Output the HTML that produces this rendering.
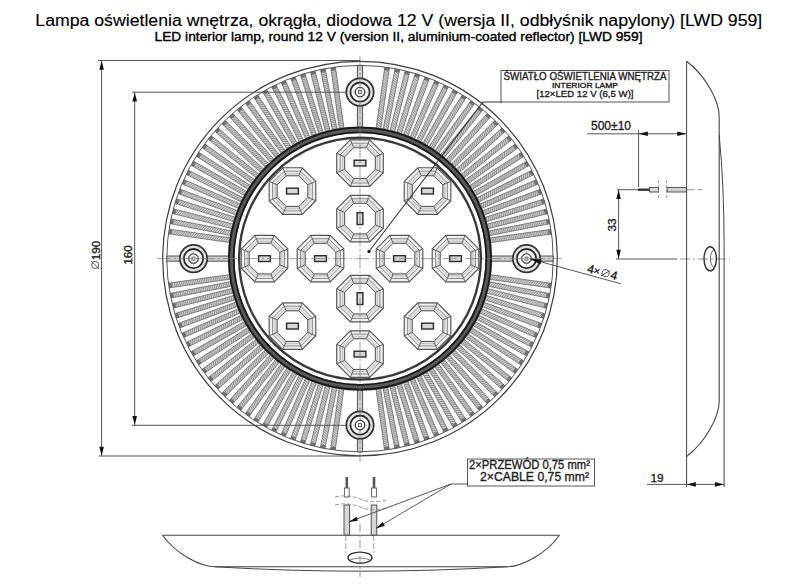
<!DOCTYPE html>
<html><head><meta charset="utf-8"><style>
html,body{margin:0;padding:0;background:#fff;}
svg{display:block;}
text{font-family:"Liberation Sans",sans-serif;}
.lb{stroke:#222;stroke-width:0.35px;}
</style></head><body>
<svg width="800" height="585" viewBox="0 0 800 585">
<defs>
<pattern id="hatch" patternUnits="userSpaceOnUse" width="3" height="3" patternTransform="rotate(35)">
<rect width="3" height="3" fill="#cecece"/><rect width="1.1" height="3" fill="#8a8a8a"/>
</pattern>
</defs>
<rect width="800" height="585" fill="#fff"/>
<text x="398.8" y="25.8" font-size="17.3" text-anchor="middle" fill="#000" stroke="#000" stroke-width="0.15" textLength="727" lengthAdjust="spacingAndGlyphs">Lampa oświetlenia wnętrza, okrągła, diodowa 12 V (wersja II, odbłyśnik napylony) [LWD 959]</text>
<text x="398.5" y="40.6" font-size="13.2" text-anchor="middle" fill="#000" stroke="#000" stroke-width="0.4" textLength="488" lengthAdjust="spacingAndGlyphs">LED interior lamp, round 12 V (version II, aluminium-coated reflector) [LWD 959]</text>
<g id="ribs">
<path d="M489.54,274.59 L551.02,283.31 L550.36,287.96 L488.88,279.25Z M488.49,281.53 L549.42,293.54 L548.51,298.15 L487.58,286.14Z M487.07,288.4 L547.27,303.67 L546.11,308.22 L485.92,292.96Z M485.29,295.19 L544.58,313.66 L543.18,318.15 L483.89,299.67Z M483.14,301.86 L541.35,323.5 L539.71,327.91 L481.5,306.27Z M480.64,308.42 L537.6,333.15 L535.73,337.46 L478.77,312.73Z M477.79,314.83 L533.34,342.59 L531.24,346.79 L475.69,319.03Z M474.6,321.08 L528.58,351.78 L526.25,355.86 L472.27,325.16Z M471.07,327.14 L523.33,360.7 L520.79,364.66 L468.53,331.1Z M467.23,333.01 L517.6,369.33 L514.86,373.14 L464.48,336.82Z M463.08,338.67 L511.43,377.64 L508.48,381.3 L460.13,342.33Z M458.63,344.09 L504.81,385.6 L501.67,389.1 L455.49,347.58Z M453.89,349.26 L497.78,393.2 L494.45,396.52 L450.57,352.59Z M448.88,354.18 L490.35,400.41 L486.85,403.55 L445.39,357.32Z M443.62,358.82 L482.54,407.21 L478.88,410.15 L439.96,361.76Z M438.12,363.16 L474.38,413.58 L470.56,416.32 L434.3,365.91Z M432.38,367.21 L465.89,419.5 L461.93,422.03 L428.43,369.75Z M426.44,370.94 L457.09,424.95 L453,427.27 L422.36,373.26Z M420.31,374.35 L448.01,429.93 L443.8,432.03 L416.11,376.45Z M414.01,377.42 L438.68,434.41 L434.36,436.28 L409.69,379.29Z M407.54,380.15 L429.12,438.39 L424.71,440.02 L403.14,381.79Z M400.94,382.53 L419.36,441.84 L414.87,443.23 L396.45,383.93Z M394.22,384.55 L409.43,444.76 L404.87,445.92 L389.67,385.7Z M387.41,386.21 L399.35,447.15 L394.74,448.06 L382.8,387.12Z M380.51,387.5 L389.17,448.99 L384.51,449.65 L375.86,388.15Z M344.01,388.14 L335.29,449.62 L330.64,448.96 L339.35,387.48Z M337.07,387.09 L325.06,448.02 L320.45,447.11 L332.46,386.18Z M330.2,385.67 L314.93,445.87 L310.38,444.71 L325.64,384.52Z M323.41,383.89 L304.94,443.18 L300.45,441.78 L318.93,382.49Z M316.74,381.74 L295.1,439.95 L290.69,438.31 L312.33,380.1Z M310.18,379.24 L285.45,436.2 L281.14,434.33 L305.87,377.37Z M303.77,376.39 L276.01,431.94 L271.81,429.84 L299.57,374.29Z M297.52,373.2 L266.82,427.18 L262.74,424.85 L293.44,370.87Z M291.46,369.67 L257.9,421.93 L253.94,419.39 L287.5,367.13Z M285.59,365.83 L249.27,416.2 L245.46,413.46 L281.78,363.08Z M279.93,361.68 L240.96,410.03 L237.3,407.08 L276.27,358.73Z M274.51,357.23 L233,403.41 L229.5,400.27 L271.02,354.09Z M269.34,352.49 L225.4,396.38 L222.08,393.05 L266.01,349.17Z M264.42,347.48 L218.19,388.95 L215.05,385.45 L261.28,343.99Z M259.78,342.22 L211.39,381.14 L208.45,377.48 L256.84,338.56Z M255.44,336.72 L205.02,372.98 L202.28,369.16 L252.69,332.9Z M251.39,330.98 L199.1,364.49 L196.57,360.53 L248.85,327.03Z M247.66,325.04 L193.65,355.69 L191.33,351.6 L245.34,320.96Z M244.25,318.91 L188.67,346.61 L186.57,342.4 L242.15,314.71Z M241.18,312.61 L184.19,337.28 L182.32,332.96 L239.31,308.29Z M238.45,306.14 L180.21,327.72 L178.58,323.31 L236.81,301.74Z M236.07,299.54 L176.76,317.96 L175.37,313.47 L234.67,295.05Z M234.05,292.82 L173.84,308.03 L172.68,303.47 L232.9,288.27Z M232.39,286.01 L171.45,297.95 L170.54,293.34 L231.48,281.4Z M231.1,279.11 L169.61,287.77 L168.95,283.11 L230.45,274.46Z M230.46,242.61 L168.98,233.89 L169.64,229.24 L231.12,237.95Z M231.51,235.67 L170.58,223.66 L171.49,219.05 L232.42,231.06Z M232.93,228.8 L172.73,213.53 L173.89,208.98 L234.08,224.24Z M234.71,222.01 L175.42,203.54 L176.82,199.05 L236.11,217.53Z M236.86,215.34 L178.65,193.7 L180.29,189.29 L238.5,210.93Z M239.36,208.78 L182.4,184.05 L184.27,179.74 L241.23,204.47Z M242.21,202.37 L186.66,174.61 L188.76,170.41 L244.31,198.17Z M245.4,196.12 L191.42,165.42 L193.75,161.34 L247.73,192.04Z M248.93,190.06 L196.67,156.5 L199.21,152.54 L251.47,186.1Z M252.77,184.19 L202.4,147.87 L205.14,144.06 L255.52,180.38Z M256.92,178.53 L208.57,139.56 L211.52,135.9 L259.87,174.87Z M261.37,173.11 L215.19,131.6 L218.33,128.1 L264.51,169.62Z M266.11,167.94 L222.22,124 L225.55,120.68 L269.43,164.61Z M271.12,163.02 L229.65,116.79 L233.15,113.65 L274.61,159.88Z M276.38,158.38 L237.46,109.99 L241.12,107.05 L280.04,155.44Z M281.88,154.04 L245.62,103.62 L249.44,100.88 L285.7,151.29Z M287.62,149.99 L254.11,97.7 L258.07,95.17 L291.57,147.45Z M293.56,146.26 L262.91,92.25 L267,89.93 L297.64,143.94Z M299.69,142.85 L271.99,87.27 L276.2,85.17 L303.89,140.75Z M305.99,139.78 L281.32,82.79 L285.64,80.92 L310.31,137.91Z M312.46,137.05 L290.88,78.81 L295.29,77.18 L316.86,135.41Z M319.06,134.67 L300.64,75.36 L305.13,73.97 L323.55,133.27Z M325.78,132.65 L310.57,72.44 L315.13,71.28 L330.33,131.5Z M332.59,130.99 L320.65,70.05 L325.26,69.14 L337.2,130.08Z M339.49,129.7 L330.83,68.21 L335.49,67.55 L344.14,129.05Z M375.99,129.06 L384.71,67.58 L389.36,68.24 L380.65,129.72Z M382.93,130.11 L394.94,69.18 L399.55,70.09 L387.54,131.02Z M389.8,131.53 L405.07,71.33 L409.62,72.49 L394.36,132.68Z M396.59,133.31 L415.06,74.02 L419.55,75.42 L401.07,134.71Z M403.26,135.46 L424.9,77.25 L429.31,78.89 L407.67,137.1Z M409.82,137.96 L434.55,81 L438.86,82.87 L414.13,139.83Z M416.23,140.81 L443.99,85.26 L448.19,87.36 L420.43,142.91Z M422.48,144 L453.18,90.02 L457.26,92.35 L426.56,146.33Z M428.54,147.53 L462.1,95.27 L466.06,97.81 L432.5,150.07Z M434.41,151.37 L470.73,101 L474.54,103.74 L438.22,154.12Z M440.07,155.52 L479.04,107.17 L482.7,110.12 L443.73,158.47Z M445.49,159.97 L487,113.79 L490.5,116.93 L448.98,163.11Z M450.66,164.71 L494.6,120.82 L497.92,124.15 L453.99,168.03Z M455.58,169.72 L501.81,128.25 L504.95,131.75 L458.72,173.21Z M460.22,174.98 L508.61,136.06 L511.55,139.72 L463.16,178.64Z M464.56,180.48 L514.98,144.22 L517.72,148.04 L467.31,184.3Z M468.61,186.22 L520.9,152.71 L523.43,156.67 L471.15,190.17Z M472.34,192.16 L526.35,161.51 L528.67,165.6 L474.66,196.24Z M475.75,198.29 L531.33,170.59 L533.43,174.8 L477.85,202.49Z M478.82,204.59 L535.81,179.92 L537.68,184.24 L480.69,208.91Z M481.55,211.06 L539.79,189.48 L541.42,193.89 L483.19,215.46Z M483.93,217.66 L543.24,199.24 L544.63,203.73 L485.33,222.15Z M485.95,224.38 L546.16,209.17 L547.32,213.73 L487.1,228.93Z M487.61,231.19 L548.55,219.25 L549.46,223.86 L488.52,235.8Z M488.9,238.09 L550.39,229.43 L551.05,234.09 L489.55,242.74Z" fill="#d0d0d0" stroke="none"/>
<path d="M486.9,279.0L490.1,274.7M489.2,279.3L492.4,275.0M491.5,279.6L494.7,275.3M493.7,279.9L497.0,275.6M496.0,280.3L499.2,276.0M498.3,280.6L501.5,276.3M500.6,280.9L503.8,276.6M502.8,281.2L506.1,276.9M505.1,281.5L508.3,277.3M507.4,281.9L510.6,277.6M509.7,282.2L512.9,277.9M511.9,282.5L515.2,278.2M514.2,282.8L517.5,278.6M516.5,283.2L519.7,278.9M518.8,283.5L522.0,279.2M521.1,283.8L524.3,279.5M523.3,284.1L526.6,279.8M525.6,284.5L528.8,280.2M527.9,284.8L531.1,280.5M530.2,285.1L533.4,280.8M532.4,285.4L535.7,281.1M534.7,285.7L538.0,281.5M537.0,286.1L540.2,281.8M539.3,286.4L542.5,282.1M541.6,286.7L544.8,282.4M543.8,287.0L547.1,282.7M546.1,287.4L549.3,283.1M485.6,285.8L489.1,281.6M487.9,286.2L491.3,282.1M490.1,286.6L493.6,282.5M492.4,287.1L495.8,283.0M494.6,287.5L498.1,283.4M496.9,288.0L500.4,283.9M499.2,288.4L502.6,284.3M501.4,288.9L504.9,284.8M503.7,289.3L507.1,285.2M505.9,289.8L509.4,285.6M508.2,290.2L511.6,286.1M510.4,290.6L513.9,286.5M512.7,291.1L516.2,287.0M515.0,291.5L518.4,287.4M517.2,292.0L520.7,287.9M519.5,292.4L522.9,288.3M521.7,292.9L525.2,288.8M524.0,293.3L527.4,289.2M526.2,293.8L529.7,289.7M528.5,294.2L532.0,290.1M530.8,294.7L534.2,290.5M533.0,295.1L536.5,291.0M535.3,295.5L538.7,291.4M537.5,296.0L541.0,291.9M539.8,296.4L543.2,292.3M542.0,296.9L545.5,292.8M544.3,297.3L547.8,293.2M484.0,292.5L487.7,288.5M486.2,293.0L489.9,289.1M488.4,293.6L492.1,289.7M490.7,294.2L494.3,290.2M492.9,294.7L496.6,290.8M495.1,295.3L498.8,291.4M497.4,295.9L501.0,291.9M499.6,296.4L503.3,292.5M501.8,297.0L505.5,293.1M504.0,297.6L507.7,293.6M506.3,298.1L509.9,294.2M508.5,298.7L512.2,294.8M510.7,299.2L514.4,295.3M513.0,299.8L516.6,295.9M515.2,300.4L518.9,296.5M517.4,300.9L521.1,297.0M519.7,301.5L523.3,297.6M521.9,302.1L525.6,298.2M524.1,302.6L527.8,298.7M526.3,303.2L530.0,299.3M528.6,303.8L532.2,299.9M530.8,304.3L534.5,300.4M533.0,304.9L536.7,301.0M535.3,305.5L538.9,301.6M537.5,306.0L541.2,302.1M539.7,306.6L543.4,302.7M541.9,307.2L545.6,303.2M482.0,299.1L485.9,295.4M484.2,299.8L488.1,296.0M486.4,300.4L490.3,296.7M488.6,301.1L492.4,297.4M490.8,301.8L494.6,298.1M493.0,302.5L496.8,298.8M495.2,303.2L499.0,299.5M497.4,303.9L501.2,300.2M499.5,304.6L503.4,300.8M501.7,305.2L505.6,301.5M503.9,305.9L507.8,302.2M506.1,306.6L510.0,302.9M508.3,307.3L512.2,303.6M510.5,308.0L514.4,304.3M512.7,308.7L516.6,304.9M514.9,309.3L518.8,305.6M517.1,310.0L521.0,306.3M519.3,310.7L523.2,307.0M521.5,311.4L525.4,307.7M523.7,312.1L527.6,308.4M525.9,312.8L529.8,309.1M528.1,313.4L532.0,309.7M530.3,314.1L534.2,310.4M532.5,314.8L536.4,311.1M534.7,315.5L538.6,311.8M536.9,316.2L540.8,312.5M539.1,316.9L543.0,313.2M479.6,305.6L483.7,302.1M481.8,306.4L485.9,302.9M483.9,307.2L488.0,303.7M486.1,308.0L490.2,304.5M488.3,308.8L492.3,305.3M490.4,309.6L494.5,306.1M492.6,310.4L496.6,306.9M494.7,311.2L498.8,307.7M496.9,312.0L501.0,308.5M499.0,312.8L503.1,309.3M501.2,313.6L505.3,310.1M503.3,314.4L507.4,310.9M505.5,315.2L509.6,311.7M507.7,316.0L511.7,312.5M509.8,316.8L513.9,313.3M512.0,317.6L516.0,314.1M514.1,318.4L518.2,314.9M516.3,319.2L520.4,315.7M518.4,320.0L522.5,316.5M520.6,320.8L524.7,317.3M522.7,321.6L526.8,318.1M524.9,322.4L529.0,318.9M527.1,323.2L531.1,319.7M529.2,324.0L533.3,320.5M531.4,324.8L535.4,321.3M533.5,325.6L537.6,322.1M535.7,326.4L539.8,322.9M476.9,311.9L481.2,308.7M479.0,312.8L483.3,309.6M481.2,313.8L485.4,310.5M483.3,314.7L487.5,311.4M485.4,315.6L489.6,312.3M487.5,316.5L491.7,313.2M489.6,317.4L493.8,314.2M491.7,318.3L496.0,315.1M493.8,319.3L498.1,316.0M495.9,320.2L500.2,316.9M498.0,321.1L502.3,317.8M500.1,322.0L504.4,318.7M502.2,322.9L506.5,319.6M504.4,323.8L508.6,320.6M506.5,324.8L510.7,321.5M508.6,325.7L512.8,322.4M510.7,326.6L514.9,323.3M512.8,327.5L517.1,324.2M514.9,328.4L519.2,325.1M517.0,329.3L521.3,326.1M519.1,330.3L523.4,327.0M521.2,331.2L525.5,327.9M523.3,332.1L527.6,328.8M525.5,333.0L529.7,329.7M527.6,333.9L531.8,330.6M529.7,334.8L533.9,331.6M531.8,335.7L536.0,332.5M473.9,318.1L478.3,315.1M476.0,319.2L480.4,316.1M478.0,320.2L482.4,317.2M480.1,321.2L484.5,318.2M482.1,322.3L486.6,319.2M484.2,323.3L488.6,320.2M486.2,324.3L490.7,321.3M488.3,325.3L492.7,322.3M490.4,326.4L494.8,323.3M492.4,327.4L496.8,324.3M494.5,328.4L498.9,325.4M496.5,329.4L501.0,326.4M498.6,330.5L503.0,327.4M500.6,331.5L505.1,328.5M502.7,332.5L507.1,329.5M504.8,333.6L509.2,330.5M506.8,334.6L511.2,331.5M508.9,335.6L513.3,332.6M510.9,336.6L515.4,333.6M513.0,337.7L517.4,334.6M515.0,338.7L519.5,335.7M517.1,339.7L521.5,336.7M519.2,340.8L523.6,337.7M521.2,341.8L525.6,338.7M523.3,342.8L527.7,339.8M525.3,343.8L529.8,340.8M527.4,344.9L531.8,341.8M470.5,324.2L475.1,321.4M472.5,325.3L477.1,322.5M474.5,326.4L479.1,323.6M476.5,327.6L481.1,324.8M478.5,328.7L483.1,325.9M480.5,329.9L485.1,327.1M482.5,331.0L487.1,328.2M484.5,332.1L489.1,329.3M486.5,333.3L491.1,330.5M488.5,334.4L493.1,331.6M490.5,335.5L495.1,332.7M492.5,336.7L497.1,333.9M494.5,337.8L499.1,335.0M496.5,339.0L501.1,336.2M498.5,340.1L503.1,337.3M500.5,341.2L505.1,338.4M502.5,342.4L507.1,339.6M504.5,343.5L509.1,340.7M506.5,344.6L511.1,341.8M508.5,345.8L513.1,343.0M510.5,346.9L515.1,344.1M512.5,348.1L517.1,345.3M514.5,349.2L519.1,346.4M516.5,350.3L521.1,347.5M518.5,351.5L523.1,348.7M520.5,352.6L525.1,349.8M522.5,353.7L527.1,350.9M466.9,330.0L471.6,327.5M468.8,331.3L473.5,328.7M470.7,332.5L475.5,330.0M472.7,333.7L477.4,331.2M474.6,335.0L479.3,332.4M476.5,336.2L481.3,333.7M478.5,337.5L483.2,334.9M480.4,338.7L485.1,336.2M482.3,340.0L487.1,337.4M484.3,341.2L489.0,338.7M486.2,342.4L490.9,339.9M488.1,343.7L492.9,341.1M490.1,344.9L494.8,342.4M492.0,346.2L496.7,343.6M493.9,347.4L498.7,344.9M495.9,348.7L500.6,346.1M497.8,349.9L502.5,347.4M499.8,351.1L504.5,348.6M501.7,352.4L506.4,349.8M503.6,353.6L508.3,351.1M505.6,354.9L510.3,352.3M507.5,356.1L512.2,353.6M509.4,357.4L514.2,354.8M511.4,358.6L516.1,356.1M513.3,359.8L518.0,357.3M515.2,361.1L520.0,358.5M517.2,362.3L521.9,359.8M462.9,335.7L467.7,333.4M464.7,337.0L469.6,334.7M466.6,338.3L471.4,336.1M468.5,339.7L473.3,337.4M470.3,341.0L475.2,338.7M472.2,342.4L477.0,340.1M474.1,343.7L478.9,341.4M475.9,345.1L480.8,342.8M477.8,346.4L482.6,344.1M479.7,347.8L484.5,345.5M481.5,349.1L486.4,346.8M483.4,350.5L488.2,348.2M485.2,351.8L490.1,349.5M487.1,353.1L492.0,350.8M489.0,354.5L493.8,352.2M490.8,355.8L495.7,353.5M492.7,357.2L497.6,354.9M494.6,358.5L499.4,356.2M496.4,359.9L501.3,357.6M498.3,361.2L503.2,358.9M500.2,362.6L505.0,360.3M502.0,363.9L506.9,361.6M503.9,365.2L508.8,363.0M505.8,366.6L510.6,364.3M507.6,367.9L512.5,365.6M509.5,369.3L514.4,367.0M511.4,370.6L516.2,368.3M458.6,341.1L463.5,339.0M460.4,342.5L465.3,340.5M462.2,344.0L467.1,341.9M463.9,345.4L468.9,343.4M465.7,346.8L470.7,344.8M467.5,348.3L472.5,346.3M469.3,349.7L474.3,347.7M471.1,351.2L476.1,349.1M472.9,352.6L477.9,350.6M474.7,354.1L479.7,352.0M476.5,355.5L481.5,353.5M478.3,356.9L483.2,354.9M480.1,358.4L485.0,356.4M481.9,359.8L486.8,357.8M483.6,361.3L488.6,359.3M485.4,362.7L490.4,360.7M487.2,364.2L492.2,362.1M489.0,365.6L494.0,363.6M490.8,367.1L495.8,365.0M492.6,368.5L497.6,366.5M494.4,369.9L499.4,367.9M496.2,371.4L501.2,369.4M498.0,372.8L502.9,370.8M499.8,374.3L504.7,372.2M501.5,375.7L506.5,373.7M503.3,377.2L508.3,375.1M505.1,378.6L510.1,376.6M454.0,346.2L459.1,344.5M455.7,347.8L460.8,346.0M457.4,349.3L462.5,347.6M459.1,350.9L464.2,349.1M460.8,352.4L465.9,350.6M462.6,353.9L467.6,352.2M464.3,355.5L469.3,353.7M466.0,357.0L471.0,355.3M467.7,358.5L472.8,356.8M469.4,360.1L474.5,358.3M471.1,361.6L476.2,359.9M472.8,363.2L477.9,361.4M474.5,364.7L479.6,362.9M476.2,366.2L481.3,364.5M477.9,367.8L483.0,366.0M479.7,369.3L484.7,367.6M481.4,370.8L486.4,369.1M483.1,372.4L488.2,370.6M484.8,373.9L489.9,372.2M486.5,375.5L491.6,373.7M488.2,377.0L493.3,375.2M489.9,378.5L495.0,376.8M491.6,380.1L496.7,378.3M493.3,381.6L498.4,379.9M495.1,383.1L500.1,381.4M496.8,384.7L501.8,382.9M498.5,386.2L503.5,384.5M449.2,351.2L454.3,349.7M450.8,352.8L455.9,351.3M452.4,354.4L457.6,352.9M454.0,356.1L459.2,354.6M455.7,357.7L460.8,356.2M457.3,359.3L462.4,357.8M458.9,360.9L464.1,359.5M460.5,362.6L465.7,361.1M462.2,364.2L467.3,362.7M463.8,365.8L468.9,364.3M465.4,367.4L470.6,366.0M467.0,369.1L472.2,367.6M468.7,370.7L473.8,369.2M470.3,372.3L475.4,370.8M471.9,374.0L477.1,372.5M473.5,375.6L478.7,374.1M475.2,377.2L480.3,375.7M476.8,378.8L481.9,377.4M478.4,380.5L483.6,379.0M480.0,382.1L485.2,380.6M481.7,383.7L486.8,382.2M483.3,385.3L488.5,383.9M484.9,387.0L490.1,385.5M486.5,388.6L491.7,387.1M488.2,390.2L493.3,388.7M489.8,391.9L495.0,390.4M491.4,393.5L496.6,392.0M444.1,355.8L449.3,354.6M445.6,357.5L450.8,356.3M447.1,359.3L452.4,358.0M448.7,361.0L453.9,359.8M450.2,362.7L455.4,361.5M451.7,364.4L457.0,363.2M453.3,366.1L458.5,364.9M454.8,367.8L460.0,366.6M456.3,369.5L461.6,368.3M457.9,371.2L463.1,370.0M459.4,372.9L464.6,371.7M460.9,374.7L466.2,373.5M462.5,376.4L467.7,375.2M464.0,378.1L469.2,376.9M465.6,379.8L470.8,378.6M467.1,381.5L472.3,380.3M468.6,383.2L473.9,382.0M470.2,384.9L475.4,383.7M471.7,386.6L476.9,385.4M473.2,388.4L478.5,387.2M474.8,390.1L480.0,388.9M476.3,391.8L481.5,390.6M477.8,393.5L483.1,392.3M479.4,395.2L484.6,394.0M480.9,396.9L486.1,395.7M482.4,398.6L487.7,397.4M484.0,400.3L489.2,399.1M438.7,360.2L444.0,359.3M440.1,362.0L445.4,361.1M441.6,363.8L446.9,362.9M443.0,365.6L448.3,364.7M444.5,367.4L449.8,366.5M445.9,369.2L451.2,368.2M447.4,371.0L452.6,370.0M448.8,372.7L454.1,371.8M450.2,374.5L455.5,373.6M451.7,376.3L457.0,375.4M453.1,378.1L458.4,377.2M454.6,379.9L459.9,379.0M456.0,381.7L461.3,380.8M457.4,383.5L462.7,382.6M458.9,385.3L464.2,384.4M460.3,387.1L465.6,386.2M461.8,388.9L467.1,388.0M463.2,390.7L468.5,389.8M464.7,392.5L469.9,391.5M466.1,394.3L471.4,393.3M467.5,396.0L472.8,395.1M469.0,397.8L474.3,396.9M470.4,399.6L475.7,398.7M471.9,401.4L477.2,400.5M473.3,403.2L478.6,402.3M474.7,405.0L480.0,404.1M476.2,406.8L481.5,405.9M433.1,364.3L438.5,363.7M434.5,366.2L439.8,365.5M435.8,368.0L441.2,367.4M437.2,369.9L442.5,369.3M438.5,371.8L443.8,371.1M439.8,373.6L445.2,373.0M441.2,375.5L446.5,374.9M442.5,377.4L447.9,376.7M443.9,379.2L449.2,378.6M445.2,381.1L450.6,380.5M446.6,383.0L451.9,382.3M447.9,384.8L453.2,384.2M449.2,386.7L454.6,386.1M450.6,388.6L455.9,387.9M451.9,390.4L457.3,389.8M453.3,392.3L458.6,391.7M454.6,394.2L460.0,393.5M456.0,396.0L461.3,395.4M457.3,397.9L462.6,397.3M458.7,399.8L464.0,399.1M460.0,401.6L465.3,401.0M461.3,403.5L466.7,402.9M462.7,405.4L468.0,404.7M464.0,407.2L469.4,406.6M465.4,409.1L470.7,408.5M466.7,411.0L472.0,410.3M468.1,412.8L473.4,412.2M427.3,368.1L432.7,367.7M428.6,370.0L433.9,369.7M429.8,371.9L435.2,371.6M431.1,373.9L436.4,373.5M432.3,375.8L437.7,375.5M433.6,377.7L438.9,377.4M434.8,379.7L440.2,379.3M436.0,381.6L441.4,381.3M437.3,383.6L442.6,383.2M438.5,385.5L443.9,385.1M439.8,387.4L445.1,387.1M441.0,389.4L446.4,389.0M442.2,391.3L447.6,391.0M443.5,393.2L448.8,392.9M444.7,395.2L450.1,394.8M446.0,397.1L451.3,396.8M447.2,399.0L452.6,398.7M448.4,401.0L453.8,400.6M449.7,402.9L455.0,402.6M450.9,404.9L456.3,404.5M452.2,406.8L457.5,406.4M453.4,408.7L458.8,408.4M454.6,410.7L460.0,410.3M455.9,412.6L461.2,412.3M457.1,414.5L462.5,414.2M458.4,416.5L463.7,416.1M459.6,418.4L465.0,418.1M421.4,371.5L426.7,371.5M422.5,373.5L427.9,373.5M423.6,375.5L429.0,375.5M424.8,377.5L430.1,377.5M425.9,379.5L431.3,379.5M427.0,381.5L432.4,381.5M428.2,383.5L433.6,383.5M429.3,385.5L434.7,385.5M430.4,387.5L435.8,387.5M431.6,389.5L437.0,389.5M432.7,391.5L438.1,391.5M433.9,393.5L439.2,393.5M435.0,395.5L440.4,395.5M436.1,397.5L441.5,397.5M437.3,399.5L442.6,399.5M438.4,401.5L443.8,401.5M439.5,403.5L444.9,403.5M440.7,405.5L446.0,405.5M441.8,407.5L447.2,407.5M442.9,409.5L448.3,409.5M444.1,411.5L449.4,411.5M445.2,413.5L450.6,413.5M446.3,415.5L451.7,415.5M447.5,417.5L452.8,417.5M448.6,419.5L454.0,419.5M449.7,421.5L455.1,421.5M450.9,423.5L456.3,423.5M415.2,374.7L420.6,374.9M416.2,376.7L421.6,376.9M417.3,378.8L422.6,379.0M418.3,380.8L423.7,381.1M419.3,382.9L424.7,383.1M420.3,384.9L425.7,385.2M421.4,387.0L426.7,387.2M422.4,389.1L427.8,389.3M423.4,391.1L428.8,391.4M424.4,393.2L429.8,393.4M425.5,395.2L430.8,395.5M426.5,397.3L431.9,397.5M427.5,399.4L432.9,399.6M428.5,401.4L433.9,401.6M429.6,403.5L434.9,403.7M430.6,405.5L436.0,405.8M431.6,407.6L437.0,407.8M432.7,409.7L438.0,409.9M433.7,411.7L439.0,411.9M434.7,413.8L440.1,414.0M435.7,415.8L441.1,416.1M436.8,417.9L442.1,418.1M437.8,419.9L443.1,420.2M438.8,422.0L444.2,422.2M439.8,424.1L445.2,424.3M440.9,426.1L446.2,426.4M441.9,428.2L447.3,428.4M408.9,377.5L414.2,378.0M409.8,379.6L415.2,380.1M410.7,381.7L416.1,382.2M411.6,383.8L417.0,384.3M412.6,385.9L417.9,386.4M413.5,388.0L418.8,388.5M414.4,390.1L419.7,390.6M415.3,392.2L420.6,392.7M416.2,394.3L421.6,394.9M417.1,396.5L422.5,397.0M418.0,398.6L423.4,399.1M418.9,400.7L424.3,401.2M419.9,402.8L425.2,403.3M420.8,404.9L426.1,405.4M421.7,407.0L427.0,407.5M422.6,409.1L428.0,409.6M423.5,411.2L428.9,411.7M424.4,413.3L429.8,413.9M425.3,415.4L430.7,416.0M426.3,417.6L431.6,418.1M427.2,419.7L432.5,420.2M428.1,421.8L433.4,422.3M429.0,423.9L434.3,424.4M429.9,426.0L435.3,426.5M430.8,428.1L436.2,428.6M431.7,430.2L437.1,430.7M432.7,432.3L438.0,432.9M402.4,379.9L407.8,380.7M403.2,382.1L408.6,382.9M404.0,384.2L409.3,385.0M404.8,386.4L410.1,387.2M405.6,388.5L410.9,389.3M406.4,390.7L411.7,391.5M407.2,392.9L412.5,393.7M408.0,395.0L413.3,395.8M408.8,397.2L414.1,398.0M409.6,399.3L414.9,400.1M410.4,401.5L415.7,402.3M411.2,403.6L416.5,404.4M412.0,405.8L417.3,406.6M412.8,407.9L418.1,408.8M413.6,410.1L418.9,410.9M414.4,412.3L419.7,413.1M415.2,414.4L420.5,415.2M416.0,416.6L421.3,417.4M416.8,418.7L422.1,419.5M417.6,420.9L422.9,421.7M418.4,423.0L423.7,423.9M419.2,425.2L424.5,426.0M420.0,427.4L425.3,428.2M420.8,429.5L426.1,430.3M421.6,431.7L426.9,432.5M422.4,433.8L427.7,434.6M423.2,436.0L428.5,436.8M395.9,382.0L401.1,383.1M396.5,384.2L401.8,385.3M397.2,386.4L402.5,387.5M397.9,388.6L403.2,389.7M398.6,390.8L403.8,391.9M399.3,393.0L404.5,394.1M400.0,395.2L405.2,396.3M400.6,397.4L405.9,398.5M401.3,399.6L406.6,400.7M402.0,401.8L407.3,402.9M402.7,404.0L407.9,405.1M403.4,406.2L408.6,407.3M404.0,408.4L409.3,409.5M404.7,410.6L410.0,411.7M405.4,412.8L410.7,413.9M406.1,415.0L411.4,416.1M406.8,417.2L412.0,418.3M407.5,419.4L412.7,420.4M408.1,421.6L413.4,422.6M408.8,423.8L414.1,424.8M409.5,425.9L414.8,427.0M410.2,428.1L415.4,429.2M410.9,430.3L416.1,431.4M411.5,432.5L416.8,433.6M412.2,434.7L417.5,435.8M412.9,436.9L418.2,438.0M413.6,439.1L418.9,440.2M389.2,383.8L394.4,385.1M389.7,386.0L394.9,387.4M390.3,388.2L395.5,389.6M390.9,390.5L396.1,391.8M391.4,392.7L396.6,394.1M392.0,394.9L397.2,396.3M392.6,397.1L397.7,398.5M393.1,399.4L398.3,400.7M393.7,401.6L398.9,403.0M394.2,403.8L399.4,405.2M394.8,406.1L400.0,407.4M395.4,408.3L400.6,409.7M395.9,410.5L401.1,411.9M396.5,412.8L401.7,414.1M397.1,415.0L402.3,416.4M397.6,417.2L402.8,418.6M398.2,419.4L403.4,420.8M398.7,421.7L403.9,423.0M399.3,423.9L404.5,425.3M399.9,426.1L405.1,427.5M400.4,428.4L405.6,429.7M401.0,430.6L406.2,432.0M401.6,432.8L406.8,434.2M402.1,435.1L407.3,436.4M402.7,437.3L407.9,438.7M403.3,439.5L408.4,440.9M403.8,441.7L409.0,443.1M382.4,385.2L387.5,386.8M382.9,387.4L388.0,389.1M383.3,389.7L388.4,391.3M383.7,391.9L388.9,393.6M384.2,394.2L389.3,395.8M384.6,396.4L389.7,398.1M385.1,398.7L390.2,400.3M385.5,401.0L390.6,402.6M386.0,403.2L391.1,404.9M386.4,405.5L391.5,407.1M386.8,407.7L391.9,409.4M387.3,410.0L392.4,411.6M387.7,412.2L392.8,413.9M388.2,414.5L393.3,416.1M388.6,416.8L393.7,418.4M389.0,419.0L394.2,420.7M389.5,421.3L394.6,422.9M389.9,423.5L395.0,425.2M390.4,425.8L395.5,427.4M390.8,428.0L395.9,429.7M391.3,430.3L396.4,431.9M391.7,432.6L396.8,434.2M392.1,434.8L397.3,436.5M392.6,437.1L397.7,438.7M393.0,439.3L398.1,441.0M393.5,441.6L398.6,443.2M393.9,443.8L399.0,445.5M375.6,386.2L380.6,388.1M375.9,388.5L380.9,390.4M376.2,390.7L381.2,392.6M376.5,393.0L381.6,394.9M376.9,395.3L381.9,397.2M377.2,397.6L382.2,399.5M377.5,399.8L382.5,401.8M377.8,402.1L382.8,404.0M378.1,404.4L383.2,406.3M378.5,406.7L383.5,408.6M378.8,408.9L383.8,410.9M379.1,411.2L384.1,413.1M379.4,413.5L384.4,415.4M379.7,415.8L384.8,417.7M380.1,418.1L385.1,420.0M380.4,420.3L385.4,422.3M380.7,422.6L385.7,424.5M381.0,424.9L386.0,426.8M381.3,427.2L386.4,429.1M381.7,429.4L386.7,431.4M382.0,431.7L387.0,433.6M382.3,434.0L387.3,435.9M382.6,436.3L387.6,438.2M383.0,438.6L388.0,440.5M383.3,440.8L388.3,442.8M383.6,443.1L388.6,445.0M383.9,445.4L388.9,447.3M339.6,385.5L343.9,388.7M339.3,387.8L343.6,391.0M339.0,390.1L343.3,393.3M338.7,392.3L343.0,395.6M338.3,394.6L342.6,397.8M338.0,396.9L342.3,400.1M337.7,399.2L342.0,402.4M337.4,401.4L341.7,404.7M337.1,403.7L341.3,406.9M336.7,406.0L341.0,409.2M336.4,408.3L340.7,411.5M336.1,410.5L340.4,413.8M335.8,412.8L340.0,416.1M335.4,415.1L339.7,418.3M335.1,417.4L339.4,420.6M334.8,419.7L339.1,422.9M334.5,421.9L338.8,425.2M334.1,424.2L338.4,427.4M333.8,426.5L338.1,429.7M333.5,428.8L337.8,432.0M333.2,431.0L337.5,434.3M332.9,433.3L337.1,436.6M332.5,435.6L336.8,438.8M332.2,437.9L336.5,441.1M331.9,440.2L336.2,443.4M331.6,442.4L335.9,445.7M331.2,444.7L335.5,447.9M332.8,384.2L337.0,387.7M332.4,386.5L336.5,389.9M332.0,388.7L336.1,392.2M331.5,391.0L335.6,394.4M331.1,393.2L335.2,396.7M330.6,395.5L334.7,399.0M330.2,397.8L334.3,401.2M329.7,400.0L333.8,403.5M329.3,402.3L333.4,405.7M328.8,404.5L333.0,408.0M328.4,406.8L332.5,410.2M328.0,409.0L332.1,412.5M327.5,411.3L331.6,414.8M327.1,413.6L331.2,417.0M326.6,415.8L330.7,419.3M326.2,418.1L330.3,421.5M325.7,420.3L329.8,423.8M325.3,422.6L329.4,426.0M324.8,424.8L328.9,428.3M324.4,427.1L328.5,430.6M323.9,429.4L328.1,432.8M323.5,431.6L327.6,435.1M323.1,433.9L327.2,437.3M322.6,436.1L326.7,439.6M322.2,438.4L326.3,441.8M321.7,440.6L325.8,444.1M321.3,442.9L325.4,446.4M326.1,382.6L330.1,386.3M325.6,384.8L329.5,388.5M325.0,387.0L328.9,390.7M324.4,389.3L328.4,392.9M323.9,391.5L327.8,395.2M323.3,393.7L327.2,397.4M322.7,396.0L326.7,399.6M322.2,398.2L326.1,401.9M321.6,400.4L325.5,404.1M321.0,402.6L325.0,406.3M320.5,404.9L324.4,408.5M319.9,407.1L323.8,410.8M319.4,409.3L323.3,413.0M318.8,411.6L322.7,415.2M318.2,413.8L322.1,417.5M317.7,416.0L321.6,419.7M317.1,418.3L321.0,421.9M316.5,420.5L320.4,424.2M316.0,422.7L319.9,426.4M315.4,424.9L319.3,428.6M314.8,427.2L318.7,430.8M314.3,429.4L318.2,433.1M313.7,431.6L317.6,435.3M313.1,433.9L317.0,437.5M312.6,436.1L316.5,439.8M312.0,438.3L315.9,442.0M311.4,440.5L315.4,444.2M319.5,380.6L323.2,384.5M318.8,382.8L322.6,386.7M318.2,385.0L321.9,388.9M317.5,387.2L321.2,391.0M316.8,389.4L320.5,393.2M316.1,391.6L319.8,395.4M315.4,393.8L319.1,397.6M314.7,396.0L318.4,399.8M314.0,398.1L317.8,402.0M313.4,400.3L317.1,404.2M312.7,402.5L316.4,406.4M312.0,404.7L315.7,408.6M311.3,406.9L315.0,410.8M310.6,409.1L314.3,413.0M309.9,411.3L313.7,415.2M309.3,413.5L313.0,417.4M308.6,415.7L312.3,419.6M307.9,417.9L311.6,421.8M307.2,420.1L310.9,424.0M306.5,422.3L310.2,426.2M305.8,424.5L309.5,428.4M305.2,426.7L308.9,430.6M304.5,428.9L308.2,432.8M303.8,431.1L307.5,435.0M303.1,433.3L306.8,437.2M302.4,435.5L306.1,439.4M301.7,437.7L305.4,441.6M313.0,378.2L316.5,382.3M312.2,380.4L315.7,384.5M311.4,382.5L314.9,386.6M310.6,384.7L314.1,388.8M309.8,386.9L313.3,390.9M309.0,389.0L312.5,393.1M308.2,391.2L311.7,395.2M307.4,393.3L310.9,397.4M306.6,395.5L310.1,399.6M305.8,397.6L309.3,401.7M305.0,399.8L308.5,403.9M304.2,401.9L307.7,406.0M303.4,404.1L306.9,408.2M302.6,406.3L306.1,410.3M301.8,408.4L305.3,412.5M301.0,410.6L304.5,414.6M300.2,412.7L303.7,416.8M299.4,414.9L302.9,419.0M298.6,417.0L302.1,421.1M297.8,419.2L301.3,423.3M297.0,421.3L300.5,425.4M296.2,423.5L299.7,427.6M295.4,425.7L298.9,429.7M294.6,427.8L298.1,431.9M293.8,430.0L297.3,434.0M293.0,432.1L296.5,436.2M292.2,434.3L295.7,438.4M306.7,375.5L309.9,379.8M305.8,377.6L309.0,381.9M304.8,379.8L308.1,384.0M303.9,381.9L307.2,386.1M303.0,384.0L306.3,388.2M302.1,386.1L305.4,390.3M301.2,388.2L304.4,392.4M300.3,390.3L303.5,394.6M299.3,392.4L302.6,396.7M298.4,394.5L301.7,398.8M297.5,396.6L300.8,400.9M296.6,398.7L299.9,403.0M295.7,400.8L299.0,405.1M294.8,403.0L298.0,407.2M293.8,405.1L297.1,409.3M292.9,407.2L296.2,411.4M292.0,409.3L295.3,413.5M291.1,411.4L294.4,415.7M290.2,413.5L293.5,417.8M289.3,415.6L292.5,419.9M288.3,417.7L291.6,422.0M287.4,419.8L290.7,424.1M286.5,421.9L289.8,426.2M285.6,424.1L288.9,428.3M284.7,426.2L288.0,430.4M283.8,428.3L287.0,432.5M282.9,430.4L286.1,434.6M300.5,372.5L303.5,376.9M299.4,374.6L302.5,379.0M298.4,376.6L301.4,381.0M297.4,378.7L300.4,383.1M296.3,380.7L299.4,385.2M295.3,382.8L298.4,387.2M294.3,384.8L297.3,389.3M293.3,386.9L296.3,391.3M292.2,389.0L295.3,393.4M291.2,391.0L294.3,395.4M290.2,393.1L293.2,397.5M289.2,395.1L292.2,399.6M288.1,397.2L291.2,401.6M287.1,399.2L290.1,403.7M286.1,401.3L289.1,405.7M285.0,403.4L288.1,407.8M284.0,405.4L287.1,409.8M283.0,407.5L286.0,411.9M282.0,409.5L285.0,414.0M280.9,411.6L284.0,416.0M279.9,413.6L282.9,418.1M278.9,415.7L281.9,420.1M277.8,417.8L280.9,422.2M276.8,419.8L279.9,424.2M275.8,421.9L278.8,426.3M274.8,423.9L277.8,428.4M273.7,426.0L276.8,430.4M294.4,369.1L297.2,373.7M293.3,371.1L296.1,375.7M292.2,373.1L295.0,377.7M291.0,375.1L293.8,379.7M289.9,377.1L292.7,381.7M288.7,379.1L291.5,383.7M287.6,381.1L290.4,385.7M286.5,383.1L289.3,387.7M285.3,385.1L288.1,389.7M284.2,387.1L287.0,391.7M283.1,389.1L285.9,393.7M281.9,391.1L284.7,395.7M280.8,393.1L283.6,397.7M279.6,395.1L282.4,399.7M278.5,397.1L281.3,401.7M277.4,399.1L280.2,403.7M276.2,401.1L279.0,405.7M275.1,403.1L277.9,407.7M274.0,405.1L276.8,409.7M272.8,407.1L275.6,411.7M271.7,409.1L274.5,413.7M270.5,411.1L273.3,415.7M269.4,413.1L272.2,417.7M268.3,415.1L271.1,419.7M267.1,417.1L269.9,421.7M266.0,419.1L268.8,423.7M264.9,421.1L267.7,425.7M288.6,365.5L291.1,370.2M287.3,367.4L289.9,372.1M286.1,369.3L288.6,374.1M284.9,371.3L287.4,376.0M283.6,373.2L286.2,377.9M282.4,375.1L284.9,379.9M281.1,377.1L283.7,381.8M279.9,379.0L282.4,383.7M278.6,380.9L281.2,385.7M277.4,382.9L279.9,387.6M276.2,384.8L278.7,389.5M274.9,386.7L277.5,391.5M273.7,388.7L276.2,393.4M272.4,390.6L275.0,395.3M271.2,392.5L273.7,397.3M269.9,394.5L272.5,399.2M268.7,396.4L271.2,401.1M267.5,398.4L270.0,403.1M266.2,400.3L268.8,405.0M265.0,402.2L267.5,406.9M263.7,404.2L266.3,408.9M262.5,406.1L265.0,410.8M261.2,408.0L263.8,412.8M260.0,410.0L262.5,414.7M258.8,411.9L261.3,416.6M257.5,413.8L260.1,418.6M256.3,415.8L258.8,420.5M282.9,361.5L285.2,366.3M281.6,363.3L283.9,368.2M280.3,365.2L282.5,370.0M278.9,367.1L281.2,371.9M277.6,368.9L279.9,373.8M276.2,370.8L278.5,375.6M274.9,372.7L277.2,377.5M273.5,374.5L275.8,379.4M272.2,376.4L274.5,381.2M270.8,378.3L273.1,383.1M269.5,380.1L271.8,385.0M268.1,382.0L270.4,386.8M266.8,383.8L269.1,388.7M265.5,385.7L267.8,390.6M264.1,387.6L266.4,392.4M262.8,389.4L265.1,394.3M261.4,391.3L263.7,396.2M260.1,393.2L262.4,398.0M258.7,395.0L261.0,399.9M257.4,396.9L259.7,401.8M256.0,398.8L258.3,403.6M254.7,400.6L257.0,405.5M253.4,402.5L255.6,407.4M252.0,404.4L254.3,409.2M250.7,406.2L253.0,411.1M249.3,408.1L251.6,413.0M248.0,410.0L250.3,414.8M277.5,357.2L279.6,362.1M276.1,359.0L278.1,363.9M274.6,360.8L276.7,365.7M273.2,362.5L275.2,367.5M271.8,364.3L273.8,369.3M270.3,366.1L272.3,371.1M268.9,367.9L270.9,372.9M267.4,369.7L269.5,374.7M266.0,371.5L268.0,376.5M264.5,373.3L266.6,378.3M263.1,375.1L265.1,380.1M261.7,376.9L263.7,381.8M260.2,378.7L262.2,383.6M258.8,380.5L260.8,385.4M257.3,382.2L259.3,387.2M255.9,384.0L257.9,389.0M254.4,385.8L256.5,390.8M253.0,387.6L255.0,392.6M251.5,389.4L253.6,394.4M250.1,391.2L252.1,396.2M248.7,393.0L250.7,398.0M247.2,394.8L249.2,399.8M245.8,396.6L247.8,401.5M244.3,398.4L246.4,403.3M242.9,400.1L244.9,405.1M241.4,401.9L243.5,406.9M240.0,403.7L242.0,408.7M272.4,352.6L274.1,357.7M270.8,354.3L272.6,359.4M269.3,356.0L271.0,361.1M267.7,357.7L269.5,362.8M266.2,359.4L268.0,364.5M264.7,361.2L266.4,366.2M263.1,362.9L264.9,367.9M261.6,364.6L263.3,369.6M260.1,366.3L261.8,371.4M258.5,368.0L260.3,373.1M257.0,369.7L258.7,374.8M255.4,371.4L257.2,376.5M253.9,373.1L255.7,378.2M252.4,374.8L254.1,379.9M250.8,376.5L252.6,381.6M249.3,378.3L251.0,383.3M247.8,380.0L249.5,385.0M246.2,381.7L248.0,386.8M244.7,383.4L246.4,388.5M243.1,385.1L244.9,390.2M241.6,386.8L243.4,391.9M240.1,388.5L241.8,393.6M238.5,390.2L240.3,395.3M237.0,391.9L238.7,397.0M235.5,393.7L237.2,398.7M233.9,395.4L235.7,400.4M232.4,397.1L234.1,402.1M267.4,347.8L268.9,352.9M265.8,349.4L267.3,354.5M264.2,351.0L265.7,356.2M262.5,352.6L264.0,357.8M260.9,354.3L262.4,359.4M259.3,355.9L260.8,361.0M257.7,357.5L259.1,362.7M256.0,359.1L257.5,364.3M254.4,360.8L255.9,365.9M252.8,362.4L254.3,367.5M251.2,364.0L252.6,369.2M249.5,365.6L251.0,370.8M247.9,367.3L249.4,372.4M246.3,368.9L247.8,374.0M244.6,370.5L246.1,375.7M243.0,372.1L244.5,377.3M241.4,373.8L242.9,378.9M239.8,375.4L241.2,380.5M238.1,377.0L239.6,382.2M236.5,378.6L238.0,383.8M234.9,380.3L236.4,385.4M233.3,381.9L234.7,387.1M231.6,383.5L233.1,388.7M230.0,385.1L231.5,390.3M228.4,386.8L229.9,391.9M226.7,388.4L228.2,393.6M225.1,390.0L226.6,395.2M262.8,342.7L264.0,347.9M261.1,344.2L262.3,349.4M259.3,345.7L260.6,351.0M257.6,347.3L258.8,352.5M255.9,348.8L257.1,354.0M254.2,350.3L255.4,355.6M252.5,351.9L253.7,357.1M250.8,353.4L252.0,358.6M249.1,354.9L250.3,360.2M247.4,356.5L248.6,361.7M245.7,358.0L246.9,363.2M243.9,359.5L245.1,364.8M242.2,361.1L243.4,366.3M240.5,362.6L241.7,367.8M238.8,364.2L240.0,369.4M237.1,365.7L238.3,370.9M235.4,367.2L236.6,372.5M233.7,368.8L234.9,374.0M232.0,370.3L233.2,375.5M230.2,371.8L231.4,377.1M228.5,373.4L229.7,378.6M226.8,374.9L228.0,380.1M225.1,376.4L226.3,381.7M223.4,378.0L224.6,383.2M221.7,379.5L222.9,384.7M220.0,381.0L221.2,386.3M218.3,382.6L219.5,387.8M258.4,337.3L259.3,342.6M256.6,338.7L257.5,344.0M254.8,340.2L255.7,345.5M253.0,341.6L253.9,346.9M251.2,343.1L252.1,348.4M249.4,344.5L250.4,349.8M247.6,346.0L248.6,351.2M245.9,347.4L246.8,352.7M244.1,348.8L245.0,354.1M242.3,350.3L243.2,355.6M240.5,351.7L241.4,357.0M238.7,353.2L239.6,358.5M236.9,354.6L237.8,359.9M235.1,356.0L236.0,361.3M233.3,357.5L234.2,362.8M231.5,358.9L232.4,364.2M229.7,360.4L230.6,365.7M227.9,361.8L228.8,367.1M226.1,363.3L227.1,368.5M224.3,364.7L225.3,370.0M222.6,366.1L223.5,371.4M220.8,367.6L221.7,372.9M219.0,369.0L219.9,374.3M217.2,370.5L218.1,375.8M215.4,371.9L216.3,377.2M213.6,373.3L214.5,378.6M211.8,374.8L212.7,380.1M254.3,331.7L254.9,337.1M252.4,333.1L253.1,338.4M250.6,334.4L251.2,339.8M248.7,335.8L249.3,341.1M246.8,337.1L247.5,342.4M245.0,338.4L245.6,343.8M243.1,339.8L243.7,345.1M241.2,341.1L241.9,346.5M239.4,342.5L240.0,347.8M237.5,343.8L238.1,349.2M235.6,345.2L236.3,350.5M233.8,346.5L234.4,351.8M231.9,347.8L232.5,353.2M230.0,349.2L230.7,354.5M228.2,350.5L228.8,355.9M226.3,351.9L226.9,357.2M224.4,353.2L225.1,358.6M222.6,354.6L223.2,359.9M220.7,355.9L221.3,361.2M218.8,357.3L219.5,362.6M217.0,358.6L217.6,363.9M215.1,359.9L215.7,365.3M213.2,361.3L213.9,366.6M211.4,362.6L212.0,368.0M209.5,364.0L210.1,369.3M207.6,365.3L208.3,370.6M205.8,366.7L206.4,372.0M250.5,325.9L250.9,331.3M248.6,327.2L248.9,332.5M246.7,328.4L247.0,333.8M244.7,329.7L245.1,335.0M242.8,330.9L243.1,336.3M240.9,332.2L241.2,337.5M238.9,333.4L239.3,338.8M237.0,334.6L237.3,340.0M235.0,335.9L235.4,341.2M233.1,337.1L233.5,342.5M231.2,338.4L231.5,343.7M229.2,339.6L229.6,345.0M227.3,340.8L227.6,346.2M225.4,342.1L225.7,347.4M223.4,343.3L223.8,348.7M221.5,344.6L221.8,349.9M219.6,345.8L219.9,351.2M217.6,347.0L218.0,352.4M215.7,348.3L216.0,353.6M213.7,349.5L214.1,354.9M211.8,350.8L212.2,356.1M209.9,352.0L210.2,357.4M207.9,353.2L208.3,358.6M206.0,354.5L206.3,359.8M204.1,355.7L204.4,361.1M202.1,357.0L202.5,362.3M200.2,358.2L200.5,363.6M247.1,320.0L247.1,325.3M245.1,321.1L245.1,326.5M243.1,322.2L243.1,327.6M241.1,323.4L241.1,328.7M239.1,324.5L239.1,329.9M237.1,325.6L237.1,331.0M235.1,326.8L235.1,332.2M233.1,327.9L233.1,333.3M231.1,329.0L231.1,334.4M229.1,330.2L229.1,335.6M227.1,331.3L227.1,336.7M225.1,332.5L225.1,337.8M223.1,333.6L223.1,339.0M221.1,334.7L221.1,340.1M219.1,335.9L219.1,341.2M217.1,337.0L217.1,342.4M215.1,338.1L215.1,343.5M213.1,339.3L213.1,344.6M211.1,340.4L211.1,345.8M209.1,341.5L209.1,346.9M207.1,342.7L207.1,348.0M205.1,343.8L205.1,349.2M203.1,344.9L203.1,350.3M201.1,346.1L201.1,351.4M199.1,347.2L199.1,352.6M197.1,348.3L197.1,353.7M195.1,349.5L195.1,354.9M243.9,313.8L243.7,319.2M241.9,314.8L241.7,320.2M239.8,315.9L239.6,321.2M237.8,316.9L237.5,322.3M235.7,317.9L235.5,323.3M233.7,318.9L233.4,324.3M231.6,320.0L231.4,325.3M229.5,321.0L229.3,326.4M227.5,322.0L227.2,327.4M225.4,323.0L225.2,328.4M223.4,324.1L223.1,329.4M221.3,325.1L221.1,330.5M219.2,326.1L219.0,331.5M217.2,327.1L217.0,332.5M215.1,328.2L214.9,333.5M213.1,329.2L212.8,334.6M211.0,330.2L210.8,335.6M208.9,331.3L208.7,336.6M206.9,332.3L206.7,337.6M204.8,333.3L204.6,338.7M202.8,334.3L202.5,339.7M200.7,335.4L200.5,340.7M198.7,336.4L198.4,341.7M196.6,337.4L196.4,342.8M194.5,338.4L194.3,343.8M192.5,339.5L192.2,344.8M190.4,340.5L190.2,345.9M241.1,307.5L240.6,312.8M239.0,308.4L238.5,313.8M236.9,309.3L236.4,314.7M234.8,310.2L234.3,315.6M232.7,311.2L232.2,316.5M230.6,312.1L230.1,317.4M228.5,313.0L228.0,318.3M226.4,313.9L225.9,319.2M224.3,314.8L223.7,320.2M222.1,315.7L221.6,321.1M220.0,316.6L219.5,322.0M217.9,317.5L217.4,322.9M215.8,318.5L215.3,323.8M213.7,319.4L213.2,324.7M211.6,320.3L211.1,325.6M209.5,321.2L209.0,326.6M207.4,322.1L206.9,327.5M205.3,323.0L204.7,328.4M203.2,323.9L202.6,329.3M201.0,324.9L200.5,330.2M198.9,325.8L198.4,331.1M196.8,326.7L196.3,332.0M194.7,327.6L194.2,332.9M192.6,328.5L192.1,333.9M190.5,329.4L190.0,334.8M188.4,330.3L187.9,335.7M186.3,331.3L185.7,336.6M238.7,301.0L237.9,306.4M236.5,301.8L235.7,307.2M234.4,302.6L233.6,307.9M232.2,303.4L231.4,308.7M230.1,304.2L229.3,309.5M227.9,305.0L227.1,310.3M225.7,305.8L224.9,311.1M223.6,306.6L222.8,311.9M221.4,307.4L220.6,312.7M219.3,308.2L218.5,313.5M217.1,309.0L216.3,314.3M215.0,309.8L214.2,315.1M212.8,310.6L212.0,315.9M210.7,311.4L209.8,316.7M208.5,312.2L207.7,317.5M206.3,313.0L205.5,318.3M204.2,313.8L203.4,319.1M202.0,314.6L201.2,319.9M199.9,315.4L199.1,320.7M197.7,316.2L196.9,321.5M195.6,317.0L194.7,322.3M193.4,317.8L192.6,323.1M191.2,318.6L190.4,323.9M189.1,319.4L188.3,324.7M186.9,320.2L186.1,325.5M184.8,321.0L184.0,326.3M182.6,321.8L181.8,327.1M236.6,294.5L235.5,299.7M234.4,295.1L233.3,300.4M232.2,295.8L231.1,301.1M230.0,296.5L228.9,301.8M227.8,297.2L226.7,302.4M225.6,297.9L224.5,303.1M223.4,298.6L222.3,303.8M221.2,299.2L220.1,304.5M219.0,299.9L217.9,305.2M216.8,300.6L215.7,305.9M214.6,301.3L213.5,306.5M212.4,302.0L211.3,307.2M210.2,302.6L209.1,307.9M208.0,303.3L206.9,308.6M205.8,304.0L204.7,309.3M203.6,304.7L202.5,310.0M201.4,305.4L200.3,310.6M199.2,306.1L198.2,311.3M197.0,306.7L196.0,312.0M194.8,307.4L193.8,312.7M192.7,308.1L191.6,313.4M190.5,308.8L189.4,314.0M188.3,309.5L187.2,314.7M186.1,310.1L185.0,315.4M183.9,310.8L182.8,316.1M181.7,311.5L180.6,316.8M179.5,312.2L178.4,317.5M234.8,287.8L233.5,293.0M232.6,288.3L231.2,293.5M230.4,288.9L229.0,294.1M228.1,289.5L226.8,294.7M225.9,290.0L224.5,295.2M223.7,290.6L222.3,295.8M221.5,291.2L220.1,296.3M219.2,291.7L217.9,296.9M217.0,292.3L215.6,297.5M214.8,292.8L213.4,298.0M212.5,293.4L211.2,298.6M210.3,294.0L208.9,299.2M208.1,294.5L206.7,299.7M205.8,295.1L204.5,300.3M203.6,295.7L202.2,300.9M201.4,296.2L200.0,301.4M199.2,296.8L197.8,302.0M196.9,297.3L195.6,302.5M194.7,297.9L193.3,303.1M192.5,298.5L191.1,303.7M190.2,299.0L188.9,304.2M188.0,299.6L186.6,304.8M185.8,300.2L184.4,305.4M183.5,300.7L182.2,305.9M181.3,301.3L179.9,306.5M179.1,301.9L177.7,307.0M176.9,302.4L175.5,307.6M233.4,281.0L231.8,286.1M231.2,281.5L229.5,286.6M228.9,281.9L227.3,287.0M226.7,282.3L225.0,287.5M224.4,282.8L222.8,287.9M222.2,283.2L220.5,288.3M219.9,283.7L218.3,288.8M217.6,284.1L216.0,289.2M215.4,284.6L213.7,289.7M213.1,285.0L211.5,290.1M210.9,285.4L209.2,290.5M208.6,285.9L207.0,291.0M206.4,286.3L204.7,291.4M204.1,286.8L202.5,291.9M201.8,287.2L200.2,292.3M199.6,287.6L197.9,292.8M197.3,288.1L195.7,293.2M195.1,288.5L193.4,293.6M192.8,289.0L191.2,294.1M190.6,289.4L188.9,294.5M188.3,289.9L186.7,295.0M186.0,290.3L184.4,295.4M183.8,290.7L182.1,295.9M181.5,291.2L179.9,296.3M179.3,291.6L177.6,296.7M177.0,292.1L175.4,297.2M174.8,292.5L173.1,297.6M232.4,274.2L230.5,279.2M230.1,274.5L228.2,279.5M227.9,274.8L226.0,279.8M225.6,275.1L223.7,280.2M223.3,275.5L221.4,280.5M221.0,275.8L219.1,280.8M218.8,276.1L216.8,281.1M216.5,276.4L214.6,281.4M214.2,276.7L212.3,281.8M211.9,277.1L210.0,282.1M209.7,277.4L207.7,282.4M207.4,277.7L205.5,282.7M205.1,278.0L203.2,283.0M202.8,278.3L200.9,283.4M200.5,278.7L198.6,283.7M198.3,279.0L196.3,284.0M196.0,279.3L194.1,284.3M193.7,279.6L191.8,284.6M191.4,279.9L189.5,285.0M189.2,280.3L187.2,285.3M186.9,280.6L185.0,285.6M184.6,280.9L182.7,285.9M182.3,281.2L180.4,286.2M180.0,281.6L178.1,286.6M177.8,281.9L175.8,286.9M175.5,282.2L173.6,287.2M173.2,282.5L171.3,287.5M233.1,238.2L229.9,242.5M230.8,237.9L227.6,242.2M228.5,237.6L225.3,241.9M226.3,237.3L223.0,241.6M224.0,236.9L220.8,241.2M221.7,236.6L218.5,240.9M219.4,236.3L216.2,240.6M217.2,236.0L213.9,240.3M214.9,235.7L211.7,239.9M212.6,235.3L209.4,239.6M210.3,235.0L207.1,239.3M208.1,234.7L204.8,239.0M205.8,234.4L202.5,238.6M203.5,234.0L200.3,238.3M201.2,233.7L198.0,238.0M198.9,233.4L195.7,237.7M196.7,233.1L193.4,237.4M194.4,232.7L191.2,237.0M192.1,232.4L188.9,236.7M189.8,232.1L186.6,236.4M187.6,231.8L184.3,236.1M185.3,231.5L182.0,235.7M183.0,231.1L179.8,235.4M180.7,230.8L177.5,235.1M178.4,230.5L175.2,234.8M176.2,230.2L172.9,234.5M173.9,229.8L170.7,234.1M234.4,231.4L230.9,235.6M232.1,231.0L228.7,235.1M229.9,230.6L226.4,234.7M227.6,230.1L224.2,234.2M225.4,229.7L221.9,233.8M223.1,229.2L219.6,233.3M220.8,228.8L217.4,232.9M218.6,228.3L215.1,232.4M216.3,227.9L212.9,232.0M214.1,227.4L210.6,231.6M211.8,227.0L208.4,231.1M209.6,226.6L206.1,230.7M207.3,226.1L203.8,230.2M205.0,225.7L201.6,229.8M202.8,225.2L199.3,229.3M200.5,224.8L197.1,228.9M198.3,224.3L194.8,228.4M196.0,223.9L192.6,228.0M193.8,223.4L190.3,227.5M191.5,223.0L188.0,227.1M189.2,222.5L185.8,226.7M187.0,222.1L183.5,226.2M184.7,221.7L181.3,225.8M182.5,221.2L179.0,225.3M180.2,220.8L176.8,224.9M178.0,220.3L174.5,224.4M175.7,219.9L172.2,224.0M236.0,224.7L232.3,228.7M233.8,224.2L230.1,228.1M231.6,223.6L227.9,227.5M229.3,223.0L225.7,227.0M227.1,222.5L223.4,226.4M224.9,221.9L221.2,225.8M222.6,221.3L219.0,225.3M220.4,220.8L216.7,224.7M218.2,220.2L214.5,224.1M216.0,219.6L212.3,223.6M213.7,219.1L210.1,223.0M211.5,218.5L207.8,222.4M209.3,218.0L205.6,221.9M207.0,217.4L203.4,221.3M204.8,216.8L201.1,220.7M202.6,216.3L198.9,220.2M200.3,215.7L196.7,219.6M198.1,215.1L194.4,219.0M195.9,214.6L192.2,218.5M193.7,214.0L190.0,217.9M191.4,213.4L187.8,217.3M189.2,212.9L185.5,216.8M187.0,212.3L183.3,216.2M184.7,211.7L181.1,215.6M182.5,211.2L178.8,215.1M180.3,210.6L176.6,214.5M178.1,210.0L174.4,214.0M238.0,218.1L234.1,221.8M235.8,217.4L231.9,221.2M233.6,216.8L229.7,220.5M231.4,216.1L227.6,219.8M229.2,215.4L225.4,219.1M227.0,214.7L223.2,218.4M224.8,214.0L221.0,217.7M222.6,213.3L218.8,217.0M220.5,212.6L216.6,216.4M218.3,212.0L214.4,215.7M216.1,211.3L212.2,215.0M213.9,210.6L210.0,214.3M211.7,209.9L207.8,213.6M209.5,209.2L205.6,212.9M207.3,208.5L203.4,212.3M205.1,207.9L201.2,211.6M202.9,207.2L199.0,210.9M200.7,206.5L196.8,210.2M198.5,205.8L194.6,209.5M196.3,205.1L192.4,208.8M194.1,204.4L190.2,208.1M191.9,203.8L188.0,207.5M189.7,203.1L185.8,206.8M187.5,202.4L183.6,206.1M185.3,201.7L181.4,205.4M183.1,201.0L179.2,204.7M180.9,200.3L177.0,204.0M240.4,211.6L236.3,215.1M238.2,210.8L234.1,214.3M236.1,210.0L232.0,213.5M233.9,209.2L229.8,212.7M231.7,208.4L227.7,211.9M229.6,207.6L225.5,211.1M227.4,206.8L223.4,210.3M225.3,206.0L221.2,209.5M223.1,205.2L219.0,208.7M221.0,204.4L216.9,207.9M218.8,203.6L214.7,207.1M216.7,202.8L212.6,206.3M214.5,202.0L210.4,205.5M212.3,201.2L208.3,204.7M210.2,200.4L206.1,203.9M208.0,199.6L204.0,203.1M205.9,198.8L201.8,202.3M203.7,198.0L199.6,201.5M201.6,197.2L197.5,200.7M199.4,196.4L195.3,199.9M197.3,195.6L193.2,199.1M195.1,194.8L191.0,198.3M192.9,194.0L188.9,197.5M190.8,193.2L186.7,196.7M188.6,192.4L184.6,195.9M186.5,191.6L182.4,195.1M184.3,190.8L180.2,194.3M243.1,205.3L238.8,208.5M241.0,204.4L236.7,207.6M238.8,203.4L234.6,206.7M236.7,202.5L232.5,205.8M234.6,201.6L230.4,204.9M232.5,200.7L228.3,204.0M230.4,199.8L226.2,203.0M228.3,198.9L224.0,202.1M226.2,197.9L221.9,201.2M224.1,197.0L219.8,200.3M222.0,196.1L217.7,199.4M219.9,195.2L215.6,198.5M217.8,194.3L213.5,197.6M215.6,193.4L211.4,196.6M213.5,192.4L209.3,195.7M211.4,191.5L207.2,194.8M209.3,190.6L205.1,193.9M207.2,189.7L202.9,193.0M205.1,188.8L200.8,192.1M203.0,187.9L198.7,191.1M200.9,186.9L196.6,190.2M198.8,186.0L194.5,189.3M196.7,185.1L192.4,188.4M194.5,184.2L190.3,187.5M192.4,183.3L188.2,186.6M190.3,182.4L186.1,185.6M188.2,181.5L184.0,184.7M246.1,199.1L241.7,202.1M244.0,198.0L239.6,201.1M242.0,197.0L237.6,200.0M239.9,196.0L235.5,199.0M237.9,194.9L233.4,198.0M235.8,193.9L231.4,197.0M233.8,192.9L229.3,195.9M231.7,191.9L227.3,194.9M229.6,190.8L225.2,193.9M227.6,189.8L223.2,192.9M225.5,188.8L221.1,191.8M223.5,187.8L219.0,190.8M221.4,186.7L217.0,189.8M219.4,185.7L214.9,188.7M217.3,184.7L212.9,187.7M215.2,183.6L210.8,186.7M213.2,182.6L208.8,185.7M211.1,181.6L206.7,184.6M209.1,180.6L204.6,183.6M207.0,179.5L202.6,182.6M205.0,178.5L200.5,181.5M202.9,177.5L198.5,180.5M200.8,176.4L196.4,179.5M198.8,175.4L194.4,178.5M196.7,174.4L192.3,177.4M194.7,173.4L190.2,176.4M192.6,172.3L188.2,175.4M249.5,193.0L244.9,195.8M247.5,191.9L242.9,194.7M245.5,190.8L240.9,193.6M243.5,189.6L238.9,192.4M241.5,188.5L236.9,191.3M239.5,187.3L234.9,190.1M237.5,186.2L232.9,189.0M235.5,185.1L230.9,187.9M233.5,183.9L228.9,186.7M231.5,182.8L226.9,185.6M229.5,181.7L224.9,184.5M227.5,180.5L222.9,183.3M225.5,179.4L220.9,182.2M223.5,178.2L218.9,181.0M221.5,177.1L216.9,179.9M219.5,176.0L214.9,178.8M217.5,174.8L212.9,177.6M215.5,173.7L210.9,176.5M213.5,172.6L208.9,175.4M211.5,171.4L206.9,174.2M209.5,170.3L204.9,173.1M207.5,169.1L202.9,171.9M205.5,168.0L200.9,170.8M203.5,166.9L198.9,169.7M201.5,165.7L196.9,168.5M199.5,164.6L194.9,167.4M197.5,163.5L192.9,166.3M253.1,187.2L248.4,189.7M251.2,185.9L246.5,188.5M249.3,184.7L244.5,187.2M247.3,183.5L242.6,186.0M245.4,182.2L240.7,184.8M243.5,181.0L238.7,183.5M241.5,179.7L236.8,182.3M239.6,178.5L234.9,181.0M237.7,177.2L232.9,179.8M235.7,176.0L231.0,178.5M233.8,174.8L229.1,177.3M231.9,173.5L227.1,176.1M229.9,172.3L225.2,174.8M228.0,171.0L223.3,173.6M226.1,169.8L221.3,172.3M224.1,168.5L219.4,171.1M222.2,167.3L217.5,169.8M220.2,166.1L215.5,168.6M218.3,164.8L213.6,167.4M216.4,163.6L211.7,166.1M214.4,162.3L209.7,164.9M212.5,161.1L207.8,163.6M210.6,159.8L205.8,162.4M208.6,158.6L203.9,161.1M206.7,157.4L202.0,159.9M204.8,156.1L200.0,158.7M202.8,154.9L198.1,157.4M257.1,181.5L252.3,183.8M255.3,180.2L250.4,182.5M253.4,178.9L248.6,181.1M251.5,177.5L246.7,179.8M249.7,176.2L244.8,178.5M247.8,174.8L243.0,177.1M245.9,173.5L241.1,175.8M244.1,172.1L239.2,174.4M242.2,170.8L237.4,173.1M240.3,169.4L235.5,171.7M238.5,168.1L233.6,170.4M236.6,166.7L231.8,169.0M234.8,165.4L229.9,167.7M232.9,164.1L228.0,166.4M231.0,162.7L226.2,165.0M229.2,161.4L224.3,163.7M227.3,160.0L222.4,162.3M225.4,158.7L220.6,161.0M223.6,157.3L218.7,159.6M221.7,156.0L216.8,158.3M219.8,154.6L215.0,156.9M218.0,153.3L213.1,155.6M216.1,152.0L211.2,154.2M214.2,150.6L209.4,152.9M212.4,149.3L207.5,151.6M210.5,147.9L205.6,150.2M208.6,146.6L203.8,148.9M261.4,176.1L256.5,178.2M259.6,174.7L254.7,176.7M257.8,173.2L252.9,175.3M256.1,171.8L251.1,173.8M254.3,170.4L249.3,172.4M252.5,168.9L247.5,170.9M250.7,167.5L245.7,169.5M248.9,166.0L243.9,168.1M247.1,164.6L242.1,166.6M245.3,163.1L240.3,165.2M243.5,161.7L238.5,163.7M241.7,160.3L236.8,162.3M239.9,158.8L235.0,160.8M238.1,157.4L233.2,159.4M236.4,155.9L231.4,157.9M234.6,154.5L229.6,156.5M232.8,153.0L227.8,155.1M231.0,151.6L226.0,153.6M229.2,150.1L224.2,152.2M227.4,148.7L222.4,150.7M225.6,147.3L220.6,149.3M223.8,145.8L218.8,147.8M222.0,144.4L217.1,146.4M220.2,142.9L215.3,145.0M218.5,141.5L213.5,143.5M216.7,140.0L211.7,142.1M214.9,138.6L209.9,140.6M266.0,171.0L260.9,172.7M264.3,169.4L259.2,171.2M262.6,167.9L257.5,169.6M260.9,166.3L255.8,168.1M259.2,164.8L254.1,166.6M257.4,163.3L252.4,165.0M255.7,161.7L250.7,163.5M254.0,160.2L249.0,161.9M252.3,158.7L247.2,160.4M250.6,157.1L245.5,158.9M248.9,155.6L243.8,157.3M247.2,154.0L242.1,155.8M245.5,152.5L240.4,154.3M243.8,151.0L238.7,152.7M242.1,149.4L237.0,151.2M240.3,147.9L235.3,149.6M238.6,146.4L233.6,148.1M236.9,144.8L231.8,146.6M235.2,143.3L230.1,145.0M233.5,141.7L228.4,143.5M231.8,140.2L226.7,142.0M230.1,138.7L225.0,140.4M228.4,137.1L223.3,138.9M226.7,135.6L221.6,137.3M224.9,134.1L219.9,135.8M223.2,132.5L218.2,134.3M221.5,131.0L216.5,132.7M270.8,166.0L265.7,167.5M269.2,164.4L264.1,165.9M267.6,162.8L262.4,164.3M266.0,161.1L260.8,162.6M264.3,159.5L259.2,161.0M262.7,157.9L257.6,159.4M261.1,156.3L255.9,157.7M259.5,154.6L254.3,156.1M257.8,153.0L252.7,154.5M256.2,151.4L251.1,152.9M254.6,149.8L249.4,151.2M253.0,148.1L247.8,149.6M251.3,146.5L246.2,148.0M249.7,144.9L244.6,146.4M248.1,143.2L242.9,144.7M246.5,141.6L241.3,143.1M244.8,140.0L239.7,141.5M243.2,138.4L238.1,139.8M241.6,136.7L236.4,138.2M240.0,135.1L234.8,136.6M238.3,133.5L233.2,135.0M236.7,131.9L231.5,133.3M235.1,130.2L229.9,131.7M233.5,128.6L228.3,130.1M231.8,127.0L226.7,128.5M230.2,125.3L225.0,126.8M228.6,123.7L223.4,125.2M275.9,161.4L270.7,162.6M274.4,159.7L269.2,160.9M272.9,157.9L267.6,159.2M271.3,156.2L266.1,157.4M269.8,154.5L264.6,155.7M268.3,152.8L263.0,154.0M266.7,151.1L261.5,152.3M265.2,149.4L260.0,150.6M263.7,147.7L258.4,148.9M262.1,146.0L256.9,147.2M260.6,144.3L255.4,145.5M259.1,142.5L253.8,143.7M257.5,140.8L252.3,142.0M256.0,139.1L250.8,140.3M254.4,137.4L249.2,138.6M252.9,135.7L247.7,136.9M251.4,134.0L246.1,135.2M249.8,132.3L244.6,133.5M248.3,130.6L243.1,131.8M246.8,128.8L241.5,130.0M245.2,127.1L240.0,128.3M243.7,125.4L238.5,126.6M242.2,123.7L236.9,124.9M240.6,122.0L235.4,123.2M239.1,120.3L233.9,121.5M237.6,118.6L232.3,119.8M236.0,116.9L230.8,118.1M281.3,157.0L276.0,157.9M279.9,155.2L274.6,156.1M278.4,153.4L273.1,154.3M277.0,151.6L271.7,152.5M275.5,149.8L270.2,150.7M274.1,148.0L268.8,149.0M272.6,146.2L267.4,147.2M271.2,144.5L265.9,145.4M269.8,142.7L264.5,143.6M268.3,140.9L263.0,141.8M266.9,139.1L261.6,140.0M265.4,137.3L260.1,138.2M264.0,135.5L258.7,136.4M262.6,133.7L257.3,134.6M261.1,131.9L255.8,132.8M259.7,130.1L254.4,131.0M258.2,128.3L252.9,129.2M256.8,126.5L251.5,127.4M255.3,124.7L250.1,125.7M253.9,122.9L248.6,123.9M252.5,121.2L247.2,122.1M251.0,119.4L245.7,120.3M249.6,117.6L244.3,118.5M248.1,115.8L242.8,116.7M246.7,114.0L241.4,114.9M245.3,112.2L240.0,113.1M243.8,110.4L238.5,111.3M286.9,152.9L281.5,153.5M285.5,151.0L280.2,151.7M284.2,149.2L278.8,149.8M282.8,147.3L277.5,147.9M281.5,145.4L276.2,146.1M280.2,143.6L274.8,144.2M278.8,141.7L273.5,142.3M277.5,139.8L272.1,140.5M276.1,138.0L270.8,138.6M274.8,136.1L269.4,136.7M273.4,134.2L268.1,134.9M272.1,132.4L266.8,133.0M270.8,130.5L265.4,131.1M269.4,128.6L264.1,129.3M268.1,126.8L262.7,127.4M266.7,124.9L261.4,125.5M265.4,123.0L260.0,123.7M264.0,121.2L258.7,121.8M262.7,119.3L257.4,119.9M261.3,117.4L256.0,118.1M260.0,115.6L254.7,116.2M258.7,113.7L253.3,114.3M257.3,111.8L252.0,112.5M256.0,110.0L250.6,110.6M254.6,108.1L249.3,108.7M253.3,106.2L248.0,106.9M251.9,104.4L246.6,105.0M292.7,149.1L287.3,149.5M291.4,147.2L286.1,147.5M290.2,145.3L284.8,145.6M288.9,143.3L283.6,143.7M287.7,141.4L282.3,141.7M286.4,139.5L281.1,139.8M285.2,137.5L279.8,137.9M284.0,135.6L278.6,135.9M282.7,133.6L277.4,134.0M281.5,131.7L276.1,132.1M280.2,129.8L274.9,130.1M279.0,127.8L273.6,128.2M277.8,125.9L272.4,126.2M276.5,124.0L271.2,124.3M275.3,122.0L269.9,122.4M274.0,120.1L268.7,120.4M272.8,118.2L267.4,118.5M271.6,116.2L266.2,116.6M270.3,114.3L265.0,114.6M269.1,112.3L263.7,112.7M267.8,110.4L262.5,110.8M266.6,108.5L261.2,108.8M265.4,106.5L260.0,106.9M264.1,104.6L258.8,104.9M262.9,102.7L257.5,103.0M261.6,100.7L256.3,101.1M260.4,98.8L255.0,99.1M298.6,145.7L293.3,145.7M297.5,143.7L292.1,143.7M296.4,141.7L291.0,141.7M295.2,139.7L289.9,139.7M294.1,137.7L288.7,137.7M293.0,135.7L287.6,135.7M291.8,133.7L286.4,133.7M290.7,131.7L285.3,131.7M289.6,129.7L284.2,129.7M288.4,127.7L283.0,127.7M287.3,125.7L281.9,125.7M286.1,123.7L280.8,123.7M285.0,121.7L279.6,121.7M283.9,119.7L278.5,119.7M282.7,117.7L277.4,117.7M281.6,115.7L276.2,115.7M280.5,113.7L275.1,113.7M279.3,111.7L274.0,111.7M278.2,109.7L272.8,109.7M277.1,107.7L271.7,107.7M275.9,105.7L270.6,105.7M274.8,103.7L269.4,103.7M273.7,101.7L268.3,101.7M272.5,99.7L267.2,99.7M271.4,97.7L266.0,97.7M270.3,95.7L264.9,95.7M269.1,93.7L263.7,93.7M304.8,142.5L299.4,142.3M303.8,140.5L298.4,140.3M302.7,138.4L297.4,138.2M301.7,136.4L296.3,136.1M300.7,134.3L295.3,134.1M299.7,132.3L294.3,132.0M298.6,130.2L293.3,130.0M297.6,128.1L292.2,127.9M296.6,126.1L291.2,125.8M295.6,124.0L290.2,123.8M294.5,122.0L289.2,121.7M293.5,119.9L288.1,119.7M292.5,117.8L287.1,117.6M291.5,115.8L286.1,115.6M290.4,113.7L285.1,113.5M289.4,111.7L284.0,111.4M288.4,109.6L283.0,109.4M287.3,107.5L282.0,107.3M286.3,105.5L281.0,105.3M285.3,103.4L279.9,103.2M284.3,101.4L278.9,101.1M283.2,99.3L277.9,99.1M282.2,97.3L276.9,97.0M281.2,95.2L275.8,95.0M280.2,93.1L274.8,92.9M279.1,91.1L273.8,90.8M278.1,89.0L272.7,88.8M311.1,139.7L305.8,139.2M310.2,137.6L304.8,137.1M309.3,135.5L303.9,135.0M308.4,133.4L303.0,132.9M307.4,131.3L302.1,130.8M306.5,129.2L301.2,128.7M305.6,127.1L300.3,126.6M304.7,125.0L299.4,124.5M303.8,122.9L298.4,122.3M302.9,120.7L297.5,120.2M302.0,118.6L296.6,118.1M301.1,116.5L295.7,116.0M300.1,114.4L294.8,113.9M299.2,112.3L293.9,111.8M298.3,110.2L293.0,109.7M297.4,108.1L292.0,107.6M296.5,106.0L291.1,105.5M295.6,103.9L290.2,103.3M294.7,101.8L289.3,101.2M293.7,99.6L288.4,99.1M292.8,97.5L287.5,97.0M291.9,95.4L286.6,94.9M291.0,93.3L285.7,92.8M290.1,91.2L284.7,90.7M289.2,89.1L283.8,88.6M288.3,87.0L282.9,86.5M287.3,84.9L282.0,84.3M317.6,137.3L312.2,136.5M316.8,135.1L311.4,134.3M316.0,133.0L310.7,132.2M315.2,130.8L309.9,130.0M314.4,128.7L309.1,127.9M313.6,126.5L308.3,125.7M312.8,124.3L307.5,123.5M312.0,122.2L306.7,121.4M311.2,120.0L305.9,119.2M310.4,117.9L305.1,117.1M309.6,115.7L304.3,114.9M308.8,113.6L303.5,112.8M308.0,111.4L302.7,110.6M307.2,109.3L301.9,108.4M306.4,107.1L301.1,106.3M305.6,104.9L300.3,104.1M304.8,102.8L299.5,102.0M304.0,100.6L298.7,99.8M303.2,98.5L297.9,97.7M302.4,96.3L297.1,95.5M301.6,94.2L296.3,93.3M300.8,92.0L295.5,91.2M300.0,89.8L294.7,89.0M299.2,87.7L293.9,86.9M298.4,85.5L293.1,84.7M297.6,83.4L292.3,82.6M296.8,81.2L291.5,80.4M324.1,135.2L318.9,134.1M323.5,133.0L318.2,131.9M322.8,130.8L317.5,129.7M322.1,128.6L316.8,127.5M321.4,126.4L316.2,125.3M320.7,124.2L315.5,123.1M320.0,122.0L314.8,120.9M319.4,119.8L314.1,118.7M318.7,117.6L313.4,116.5M318.0,115.4L312.7,114.3M317.3,113.2L312.1,112.1M316.6,111.0L311.4,109.9M316.0,108.8L310.7,107.7M315.3,106.6L310.0,105.5M314.6,104.4L309.3,103.3M313.9,102.2L308.6,101.1M313.2,100.0L308.0,98.9M312.5,97.8L307.3,96.8M311.9,95.6L306.6,94.6M311.2,93.4L305.9,92.4M310.5,91.3L305.2,90.2M309.8,89.1L304.6,88.0M309.1,86.9L303.9,85.8M308.5,84.7L303.2,83.6M307.8,82.5L302.5,81.4M307.1,80.3L301.8,79.2M306.4,78.1L301.1,77.0M330.8,133.4L325.6,132.1M330.3,131.2L325.1,129.8M329.7,129.0L324.5,127.6M329.1,126.7L323.9,125.4M328.6,124.5L323.4,123.1M328.0,122.3L322.8,120.9M327.4,120.1L322.3,118.7M326.9,117.8L321.7,116.5M326.3,115.6L321.1,114.2M325.8,113.4L320.6,112.0M325.2,111.1L320.0,109.8M324.6,108.9L319.4,107.5M324.1,106.7L318.9,105.3M323.5,104.4L318.3,103.1M322.9,102.2L317.7,100.8M322.4,100.0L317.2,98.6M321.8,97.8L316.6,96.4M321.3,95.5L316.1,94.2M320.7,93.3L315.5,91.9M320.1,91.1L314.9,89.7M319.6,88.8L314.4,87.5M319.0,86.6L313.8,85.2M318.4,84.4L313.2,83.0M317.9,82.1L312.7,80.8M317.3,79.9L312.1,78.5M316.7,77.7L311.6,76.3M316.2,75.5L311.0,74.1M337.6,132.0L332.5,130.4M337.1,129.8L332.0,128.1M336.7,127.5L331.6,125.9M336.3,125.3L331.1,123.6M335.8,123.0L330.7,121.4M335.4,120.8L330.3,119.1M334.9,118.5L329.8,116.9M334.5,116.2L329.4,114.6M334.0,114.0L328.9,112.3M333.6,111.7L328.5,110.1M333.2,109.5L328.1,107.8M332.7,107.2L327.6,105.6M332.3,105.0L327.2,103.3M331.8,102.7L326.7,101.1M331.4,100.4L326.3,98.8M331.0,98.2L325.8,96.5M330.5,95.9L325.4,94.3M330.1,93.7L325.0,92.0M329.6,91.4L324.5,89.8M329.2,89.2L324.1,87.5M328.7,86.9L323.6,85.3M328.3,84.6L323.2,83.0M327.9,82.4L322.7,80.7M327.4,80.1L322.3,78.5M327.0,77.9L321.9,76.2M326.5,75.6L321.4,74.0M326.1,73.4L321.0,71.7M344.4,131.0L339.4,129.1M344.1,128.7L339.1,126.8M343.8,126.5L338.8,124.6M343.5,124.2L338.4,122.3M343.1,121.9L338.1,120.0M342.8,119.6L337.8,117.7M342.5,117.4L337.5,115.4M342.2,115.1L337.2,113.2M341.9,112.8L336.8,110.9M341.5,110.5L336.5,108.6M341.2,108.3L336.2,106.3M340.9,106.0L335.9,104.1M340.6,103.7L335.6,101.8M340.3,101.4L335.2,99.5M339.9,99.1L334.9,97.2M339.6,96.9L334.6,94.9M339.3,94.6L334.3,92.7M339.0,92.3L334.0,90.4M338.7,90.0L333.6,88.1M338.3,87.8L333.3,85.8M338.0,85.5L333.0,83.6M337.7,83.2L332.7,81.3M337.4,80.9L332.4,79.0M337.0,78.6L332.0,76.7M336.7,76.4L331.7,74.4M336.4,74.1L331.4,72.2M336.1,71.8L331.1,69.9M380.4,131.7L376.1,128.5M380.7,129.4L376.4,126.2M381.0,127.1L376.7,123.9M381.3,124.9L377.0,121.6M381.7,122.6L377.4,119.4M382.0,120.3L377.7,117.1M382.3,118.0L378.0,114.8M382.6,115.8L378.3,112.5M382.9,113.5L378.7,110.3M383.3,111.2L379.0,108.0M383.6,108.9L379.3,105.7M383.9,106.7L379.6,103.4M384.2,104.4L380.0,101.1M384.6,102.1L380.3,98.9M384.9,99.8L380.6,96.6M385.2,97.5L380.9,94.3M385.5,95.3L381.2,92.0M385.9,93.0L381.6,89.8M386.2,90.7L381.9,87.5M386.5,88.4L382.2,85.2M386.8,86.2L382.5,82.9M387.1,83.9L382.9,80.6M387.5,81.6L383.2,78.4M387.8,79.3L383.5,76.1M388.1,77.0L383.8,73.8M388.4,74.8L384.1,71.5M388.8,72.5L384.5,69.3M387.2,133.0L383.0,129.5M387.6,130.7L383.5,127.3M388.0,128.5L383.9,125.0M388.5,126.2L384.4,122.8M388.9,124.0L384.8,120.5M389.4,121.7L385.3,118.2M389.8,119.4L385.7,116.0M390.3,117.2L386.2,113.7M390.7,114.9L386.6,111.5M391.2,112.7L387.0,109.2M391.6,110.4L387.5,107.0M392.0,108.2L387.9,104.7M392.5,105.9L388.4,102.4M392.9,103.6L388.8,100.2M393.4,101.4L389.3,97.9M393.8,99.1L389.7,95.7M394.3,96.9L390.2,93.4M394.7,94.6L390.6,91.2M395.2,92.4L391.1,88.9M395.6,90.1L391.5,86.6M396.1,87.8L391.9,84.4M396.5,85.6L392.4,82.1M396.9,83.3L392.8,79.9M397.4,81.1L393.3,77.6M397.8,78.8L393.7,75.4M398.3,76.6L394.2,73.1M398.7,74.3L394.6,70.8M393.9,134.6L389.9,130.9M394.4,132.4L390.5,128.7M395.0,130.2L391.1,126.5M395.6,127.9L391.6,124.3M396.1,125.7L392.2,122.0M396.7,123.5L392.8,119.8M397.3,121.2L393.3,117.6M397.8,119.0L393.9,115.3M398.4,116.8L394.5,113.1M399.0,114.6L395.0,110.9M399.5,112.3L395.6,108.7M400.1,110.1L396.2,106.4M400.6,107.9L396.7,104.2M401.2,105.6L397.3,102.0M401.8,103.4L397.9,99.7M402.3,101.2L398.4,97.5M402.9,98.9L399.0,95.3M403.5,96.7L399.6,93.0M404.0,94.5L400.1,90.8M404.6,92.3L400.7,88.6M405.2,90.0L401.3,86.4M405.7,87.8L401.8,84.1M406.3,85.6L402.4,81.9M406.9,83.3L403.0,79.7M407.4,81.1L403.5,77.4M408.0,78.9L404.1,75.2M408.6,76.7L404.6,73.0M400.5,136.6L396.8,132.7M401.2,134.4L397.4,130.5M401.8,132.2L398.1,128.3M402.5,130.0L398.8,126.2M403.2,127.8L399.5,124.0M403.9,125.6L400.2,121.8M404.6,123.4L400.9,119.6M405.3,121.2L401.6,117.4M406.0,119.1L402.2,115.2M406.6,116.9L402.9,113.0M407.3,114.7L403.6,110.8M408.0,112.5L404.3,108.6M408.7,110.3L405.0,106.4M409.4,108.1L405.7,104.2M410.1,105.9L406.3,102.0M410.7,103.7L407.0,99.8M411.4,101.5L407.7,97.6M412.1,99.3L408.4,95.4M412.8,97.1L409.1,93.2M413.5,94.9L409.8,91.0M414.2,92.7L410.5,88.8M414.8,90.5L411.1,86.6M415.5,88.3L411.8,84.4M416.2,86.1L412.5,82.2M416.9,83.9L413.2,80.0M417.6,81.7L413.9,77.8M418.3,79.5L414.6,75.6M407.0,139.0L403.5,134.9M407.8,136.8L404.3,132.7M408.6,134.7L405.1,130.6M409.4,132.5L405.9,128.4M410.2,130.3L406.7,126.3M411.0,128.2L407.5,124.1M411.8,126.0L408.3,122.0M412.6,123.9L409.1,119.8M413.4,121.7L409.9,117.6M414.2,119.6L410.7,115.5M415.0,117.4L411.5,113.3M415.8,115.3L412.3,111.2M416.6,113.1L413.1,109.0M417.4,110.9L413.9,106.9M418.2,108.8L414.7,104.7M419.0,106.6L415.5,102.6M419.8,104.5L416.3,100.4M420.6,102.3L417.1,98.2M421.4,100.2L417.9,96.1M422.2,98.0L418.7,93.9M423.0,95.9L419.5,91.8M423.8,93.7L420.3,89.6M424.6,91.5L421.1,87.5M425.4,89.4L421.9,85.3M426.2,87.2L422.7,83.2M427.0,85.1L423.5,81.0M427.8,82.9L424.3,78.8M413.3,141.7L410.1,137.4M414.2,139.6L411.0,135.3M415.2,137.4L411.9,133.2M416.1,135.3L412.8,131.1M417.0,133.2L413.7,129.0M417.9,131.1L414.6,126.9M418.8,129.0L415.6,124.8M419.7,126.9L416.5,122.6M420.7,124.8L417.4,120.5M421.6,122.7L418.3,118.4M422.5,120.6L419.2,116.3M423.4,118.5L420.1,114.2M424.3,116.4L421.0,112.1M425.2,114.2L422.0,110.0M426.2,112.1L422.9,107.9M427.1,110.0L423.8,105.8M428.0,107.9L424.7,103.7M428.9,105.8L425.6,101.5M429.8,103.7L426.5,99.4M430.7,101.6L427.5,97.3M431.7,99.5L428.4,95.2M432.6,97.4L429.3,93.1M433.5,95.3L430.2,91.0M434.4,93.1L431.1,88.9M435.3,91.0L432.0,86.8M436.2,88.9L433.0,84.7M437.1,86.8L433.9,82.6M419.5,144.7L416.5,140.3M420.6,142.6L417.5,138.2M421.6,140.6L418.6,136.2M422.6,138.5L419.6,134.1M423.7,136.5L420.6,132.0M424.7,134.4L421.6,130.0M425.7,132.4L422.7,127.9M426.7,130.3L423.7,125.9M427.8,128.2L424.7,123.8M428.8,126.2L425.7,121.8M429.8,124.1L426.8,119.7M430.8,122.1L427.8,117.6M431.9,120.0L428.8,115.6M432.9,118.0L429.9,113.5M433.9,115.9L430.9,111.5M435.0,113.8L431.9,109.4M436.0,111.8L432.9,107.4M437.0,109.7L434.0,105.3M438.0,107.7L435.0,103.2M439.1,105.6L436.0,101.2M440.1,103.6L437.1,99.1M441.1,101.5L438.1,97.1M442.2,99.4L439.1,95.0M443.2,97.4L440.1,93.0M444.2,95.3L441.2,90.9M445.2,93.3L442.2,88.8M446.3,91.2L443.2,86.8M425.6,148.1L422.8,143.5M426.7,146.1L423.9,141.5M427.8,144.1L425.0,139.5M429.0,142.1L426.2,137.5M430.1,140.1L427.3,135.5M431.3,138.1L428.5,133.5M432.4,136.1L429.6,131.5M433.5,134.1L430.7,129.5M434.7,132.1L431.9,127.5M435.8,130.1L433.0,125.5M436.9,128.1L434.1,123.5M438.1,126.1L435.3,121.5M439.2,124.1L436.4,119.5M440.4,122.1L437.6,117.5M441.5,120.1L438.7,115.5M442.6,118.1L439.8,113.5M443.8,116.1L441.0,111.5M444.9,114.1L442.1,109.5M446.0,112.1L443.2,107.5M447.2,110.1L444.4,105.5M448.3,108.1L445.5,103.5M449.5,106.1L446.7,101.5M450.6,104.1L447.8,99.5M451.7,102.1L448.9,97.5M452.9,100.1L450.1,95.5M454.0,98.1L451.2,93.5M455.1,96.1L452.3,91.5M431.4,151.7L428.9,147.0M432.7,149.8L430.1,145.1M433.9,147.9L431.4,143.1M435.1,145.9L432.6,141.2M436.4,144.0L433.8,139.3M437.6,142.1L435.1,137.3M438.9,140.1L436.3,135.4M440.1,138.2L437.6,133.5M441.4,136.3L438.8,131.5M442.6,134.3L440.1,129.6M443.8,132.4L441.3,127.7M445.1,130.5L442.5,125.7M446.3,128.5L443.8,123.8M447.6,126.6L445.0,121.9M448.8,124.7L446.3,119.9M450.1,122.7L447.5,118.0M451.3,120.8L448.8,116.1M452.5,118.8L450.0,114.1M453.8,116.9L451.2,112.2M455.0,115.0L452.5,110.3M456.3,113.0L453.7,108.3M457.5,111.1L455.0,106.4M458.8,109.2L456.2,104.4M460.0,107.2L457.5,102.5M461.2,105.3L458.7,100.6M462.5,103.4L459.9,98.6M463.7,101.4L461.2,96.7M437.1,155.7L434.8,150.9M438.4,153.9L436.1,149.0M439.7,152.0L437.5,147.2M441.1,150.1L438.8,145.3M442.4,148.3L440.1,143.4M443.8,146.4L441.5,141.6M445.1,144.5L442.8,139.7M446.5,142.7L444.2,137.8M447.8,140.8L445.5,136.0M449.2,138.9L446.9,134.1M450.5,137.1L448.2,132.2M451.9,135.2L449.6,130.4M453.2,133.4L450.9,128.5M454.5,131.5L452.2,126.6M455.9,129.6L453.6,124.8M457.2,127.8L454.9,122.9M458.6,125.9L456.3,121.0M459.9,124.0L457.6,119.2M461.3,122.2L459.0,117.3M462.6,120.3L460.3,115.4M464.0,118.4L461.7,113.6M465.3,116.6L463.0,111.7M466.6,114.7L464.4,109.8M468.0,112.8L465.7,108.0M469.3,111.0L467.0,106.1M470.7,109.1L468.4,104.2M472.0,107.2L469.7,102.4M442.5,160.0L440.4,155.1M443.9,158.2L441.9,153.3M445.4,156.4L443.3,151.5M446.8,154.7L444.8,149.7M448.2,152.9L446.2,147.9M449.7,151.1L447.7,146.1M451.1,149.3L449.1,144.3M452.6,147.5L450.5,142.5M454.0,145.7L452.0,140.7M455.5,143.9L453.4,138.9M456.9,142.1L454.9,137.1M458.3,140.3L456.3,135.4M459.8,138.5L457.8,133.6M461.2,136.7L459.2,131.8M462.7,135.0L460.7,130.0M464.1,133.2L462.1,128.2M465.6,131.4L463.5,126.4M467.0,129.6L465.0,124.6M468.5,127.8L466.4,122.8M469.9,126.0L467.9,121.0M471.3,124.2L469.3,119.2M472.8,122.4L470.8,117.4M474.2,120.6L472.2,115.7M475.7,118.8L473.6,113.9M477.1,117.1L475.1,112.1M478.6,115.3L476.5,110.3M480.0,113.5L478.0,108.5M447.6,164.6L445.9,159.5M449.2,162.9L447.4,157.8M450.7,161.2L449.0,156.1M452.3,159.5L450.5,154.4M453.8,157.8L452.0,152.7M455.3,156.0L453.6,151.0M456.9,154.3L455.1,149.3M458.4,152.6L456.7,147.6M459.9,150.9L458.2,145.8M461.5,149.2L459.7,144.1M463.0,147.5L461.3,142.4M464.6,145.8L462.8,140.7M466.1,144.1L464.3,139.0M467.6,142.4L465.9,137.3M469.2,140.7L467.4,135.6M470.7,138.9L469.0,133.9M472.2,137.2L470.5,132.2M473.8,135.5L472.0,130.4M475.3,133.8L473.6,128.7M476.9,132.1L475.1,127.0M478.4,130.4L476.6,125.3M479.9,128.7L478.2,123.6M481.5,127.0L479.7,121.9M483.0,125.3L481.3,120.2M484.5,123.5L482.8,118.5M486.1,121.8L484.3,116.8M487.6,120.1L485.9,115.1M452.6,169.4L451.1,164.3M454.2,167.8L452.7,162.7M455.8,166.2L454.3,161.0M457.5,164.6L456.0,159.4M459.1,162.9L457.6,157.8M460.7,161.3L459.2,156.2M462.3,159.7L460.9,154.5M464.0,158.1L462.5,152.9M465.6,156.4L464.1,151.3M467.2,154.8L465.7,149.7M468.8,153.2L467.4,148.0M470.5,151.6L469.0,146.4M472.1,149.9L470.6,144.8M473.7,148.3L472.2,143.2M475.4,146.7L473.9,141.5M477.0,145.1L475.5,139.9M478.6,143.4L477.1,138.3M480.2,141.8L478.8,136.7M481.9,140.2L480.4,135.0M483.5,138.6L482.0,133.4M485.1,136.9L483.6,131.8M486.7,135.3L485.3,130.1M488.4,133.7L486.9,128.5M490.0,132.1L488.5,126.9M491.6,130.4L490.1,125.3M493.3,128.8L491.8,123.6M494.9,127.2L493.4,122.0M457.2,174.5L456.0,169.3M458.9,173.0L457.7,167.8M460.7,171.5L459.4,166.2M462.4,169.9L461.2,164.7M464.1,168.4L462.9,163.2M465.8,166.9L464.6,161.6M467.5,165.3L466.3,160.1M469.2,163.8L468.0,158.6M470.9,162.3L469.7,157.0M472.6,160.7L471.4,155.5M474.3,159.2L473.1,154.0M476.1,157.7L474.9,152.4M477.8,156.1L476.6,150.9M479.5,154.6L478.3,149.4M481.2,153.0L480.0,147.8M482.9,151.5L481.7,146.3M484.6,150.0L483.4,144.7M486.3,148.4L485.1,143.2M488.0,146.9L486.8,141.7M489.8,145.4L488.6,140.1M491.5,143.8L490.3,138.6M493.2,142.3L492.0,137.1M494.9,140.8L493.7,135.5M496.6,139.2L495.4,134.0M498.3,137.7L497.1,132.5M500.0,136.2L498.8,130.9M501.7,134.6L500.5,129.4M461.6,179.9L460.7,174.6M463.4,178.5L462.5,173.2M465.2,177.0L464.3,171.7M467.0,175.6L466.1,170.3M468.8,174.1L467.9,168.8M470.6,172.7L469.6,167.4M472.4,171.2L471.4,166.0M474.1,169.8L473.2,164.5M475.9,168.4L475.0,163.1M477.7,166.9L476.8,161.6M479.5,165.5L478.6,160.2M481.3,164.0L480.4,158.7M483.1,162.6L482.2,157.3M484.9,161.2L484.0,155.9M486.7,159.7L485.8,154.4M488.5,158.3L487.6,153.0M490.3,156.8L489.4,151.5M492.1,155.4L491.2,150.1M493.9,153.9L492.9,148.7M495.7,152.5L494.7,147.2M497.4,151.1L496.5,145.8M499.2,149.6L498.3,144.3M501.0,148.2L500.1,142.9M502.8,146.7L501.9,141.4M504.6,145.3L503.7,140.0M506.4,143.9L505.5,138.6M508.2,142.4L507.3,137.1M465.7,185.5L465.1,180.1M467.6,184.1L466.9,178.8M469.4,182.8L468.8,177.4M471.3,181.4L470.7,176.1M473.2,180.1L472.5,174.8M475.0,178.8L474.4,173.4M476.9,177.4L476.3,172.1M478.8,176.1L478.1,170.7M480.6,174.7L480.0,169.4M482.5,173.4L481.9,168.0M484.4,172.0L483.7,166.7M486.2,170.7L485.6,165.4M488.1,169.4L487.5,164.0M490.0,168.0L489.3,162.7M491.8,166.7L491.2,161.3M493.7,165.3L493.1,160.0M495.6,164.0L494.9,158.6M497.4,162.6L496.8,157.3M499.3,161.3L498.7,156.0M501.2,159.9L500.5,154.6M503.0,158.6L502.4,153.3M504.9,157.3L504.3,151.9M506.8,155.9L506.1,150.6M508.6,154.6L508.0,149.2M510.5,153.2L509.9,147.9M512.4,151.9L511.7,146.6M514.2,150.5L513.6,145.2M469.5,191.3L469.1,185.9M471.4,190.0L471.1,184.7M473.3,188.8L473.0,183.4M475.3,187.5L474.9,182.2M477.2,186.3L476.9,180.9M479.1,185.0L478.8,179.7M481.1,183.8L480.7,178.4M483.0,182.6L482.7,177.2M485.0,181.3L484.6,176.0M486.9,180.1L486.5,174.7M488.8,178.8L488.5,173.5M490.8,177.6L490.4,172.2M492.7,176.4L492.4,171.0M494.6,175.1L494.3,169.8M496.6,173.9L496.2,168.5M498.5,172.6L498.2,167.3M500.4,171.4L500.1,166.0M502.4,170.2L502.0,164.8M504.3,168.9L504.0,163.6M506.3,167.7L505.9,162.3M508.2,166.4L507.8,161.1M510.1,165.2L509.8,159.8M512.1,164.0L511.7,158.6M514.0,162.7L513.7,157.4M515.9,161.5L515.6,156.1M517.9,160.2L517.5,154.9M519.8,159.0L519.5,153.6M472.9,197.2L472.9,191.9M474.9,196.1L474.9,190.7M476.9,195.0L476.9,189.6M478.9,193.8L478.9,188.5M480.9,192.7L480.9,187.3M482.9,191.6L482.9,186.2M484.9,190.4L484.9,185.0M486.9,189.3L486.9,183.9M488.9,188.2L488.9,182.8M490.9,187.0L490.9,181.6M492.9,185.9L492.9,180.5M494.9,184.7L494.9,179.4M496.9,183.6L496.9,178.2M498.9,182.5L498.9,177.1M500.9,181.3L500.9,176.0M502.9,180.2L502.9,174.8M504.9,179.1L504.9,173.7M506.9,177.9L506.9,172.6M508.9,176.8L508.9,171.4M510.9,175.7L510.9,170.3M512.9,174.5L512.9,169.2M514.9,173.4L514.9,168.0M516.9,172.3L516.9,166.9M518.9,171.1L518.9,165.8M520.9,170.0L520.9,164.6M522.9,168.9L522.9,163.5M524.9,167.7L524.9,162.3M476.1,203.4L476.3,198.0M478.1,202.4L478.3,197.0M480.2,201.3L480.4,196.0M482.2,200.3L482.5,194.9M484.3,199.3L484.5,193.9M486.3,198.3L486.6,192.9M488.4,197.2L488.6,191.9M490.5,196.2L490.7,190.8M492.5,195.2L492.8,189.8M494.6,194.2L494.8,188.8M496.6,193.1L496.9,187.8M498.7,192.1L498.9,186.7M500.8,191.1L501.0,185.7M502.8,190.1L503.0,184.7M504.9,189.0L505.1,183.7M506.9,188.0L507.2,182.6M509.0,187.0L509.2,181.6M511.1,185.9L511.3,180.6M513.1,184.9L513.3,179.6M515.2,183.9L515.4,178.5M517.2,182.9L517.5,177.5M519.3,181.8L519.5,176.5M521.3,180.8L521.6,175.5M523.4,179.8L523.6,174.4M525.5,178.8L525.7,173.4M527.5,177.7L527.8,172.4M529.6,176.7L529.8,171.3M478.9,209.7L479.4,204.4M481.0,208.8L481.5,203.4M483.1,207.9L483.6,202.5M485.2,207.0L485.7,201.6M487.3,206.0L487.8,200.7M489.4,205.1L489.9,199.8M491.5,204.2L492.0,198.9M493.6,203.3L494.1,198.0M495.7,202.4L496.3,197.0M497.9,201.5L498.4,196.1M500.0,200.6L500.5,195.2M502.1,199.7L502.6,194.3M504.2,198.7L504.7,193.4M506.3,197.8L506.8,192.5M508.4,196.9L508.9,191.6M510.5,196.0L511.0,190.6M512.6,195.1L513.1,189.7M514.7,194.2L515.3,188.8M516.8,193.3L517.4,187.9M519.0,192.3L519.5,187.0M521.1,191.4L521.6,186.1M523.2,190.5L523.7,185.2M525.3,189.6L525.8,184.3M527.4,188.7L527.9,183.3M529.5,187.8L530.0,182.4M531.6,186.9L532.1,181.5M533.7,185.9L534.3,180.6M481.3,216.2L482.1,210.8M483.5,215.4L484.3,210.0M485.6,214.6L486.4,209.3M487.8,213.8L488.6,208.5M489.9,213.0L490.7,207.7M492.1,212.2L492.9,206.9M494.3,211.4L495.1,206.1M496.4,210.6L497.2,205.3M498.6,209.8L499.4,204.5M500.7,209.0L501.5,203.7M502.9,208.2L503.7,202.9M505.0,207.4L505.8,202.1M507.2,206.6L508.0,201.3M509.3,205.8L510.2,200.5M511.5,205.0L512.3,199.7M513.7,204.2L514.5,198.9M515.8,203.4L516.6,198.1M518.0,202.6L518.8,197.3M520.1,201.8L520.9,196.5M522.3,201.0L523.1,195.7M524.4,200.2L525.3,194.9M526.6,199.4L527.4,194.1M528.8,198.6L529.6,193.3M530.9,197.8L531.7,192.5M533.1,197.0L533.9,191.7M535.2,196.2L536.0,190.9M537.4,195.4L538.2,190.1M483.4,222.7L484.5,217.5M485.6,222.1L486.7,216.8M487.8,221.4L488.9,216.1M490.0,220.7L491.1,215.4M492.2,220.0L493.3,214.8M494.4,219.3L495.5,214.1M496.6,218.6L497.7,213.4M498.8,218.0L499.9,212.7M501.0,217.3L502.1,212.0M503.2,216.6L504.3,211.3M505.4,215.9L506.5,210.7M507.6,215.2L508.7,210.0M509.8,214.6L510.9,209.3M512.0,213.9L513.1,208.6M514.2,213.2L515.3,207.9M516.4,212.5L517.5,207.2M518.6,211.8L519.7,206.6M520.8,211.1L521.8,205.9M523.0,210.5L524.0,205.2M525.2,209.8L526.2,204.5M527.3,209.1L528.4,203.8M529.5,208.4L530.6,203.2M531.7,207.7L532.8,202.5M533.9,207.1L535.0,201.8M536.1,206.4L537.2,201.1M538.3,205.7L539.4,200.4M540.5,205.0L541.6,199.7M485.2,229.4L486.5,224.2M487.4,228.9L488.8,223.7M489.6,228.3L491.0,223.1M491.9,227.7L493.2,222.5M494.1,227.2L495.5,222.0M496.3,226.6L497.7,221.4M498.5,226.0L499.9,220.9M500.8,225.5L502.1,220.3M503.0,224.9L504.4,219.7M505.2,224.4L506.6,219.2M507.5,223.8L508.8,218.6M509.7,223.2L511.1,218.0M511.9,222.7L513.3,217.5M514.2,222.1L515.5,216.9M516.4,221.5L517.8,216.3M518.6,221.0L520.0,215.8M520.8,220.4L522.2,215.2M523.1,219.9L524.4,214.7M525.3,219.3L526.7,214.1M527.5,218.7L528.9,213.5M529.8,218.2L531.1,213.0M532.0,217.6L533.4,212.4M534.2,217.0L535.6,211.8M536.5,216.5L537.8,211.3M538.7,215.9L540.1,210.7M540.9,215.3L542.3,210.2M543.1,214.8L544.5,209.6M486.6,236.2L488.2,231.1M488.8,235.7L490.5,230.6M491.1,235.3L492.7,230.2M493.3,234.9L495.0,229.7M495.6,234.4L497.2,229.3M497.8,234.0L499.5,228.9M500.1,233.5L501.7,228.4M502.4,233.1L504.0,228.0M504.6,232.6L506.3,227.5M506.9,232.2L508.5,227.1M509.1,231.8L510.8,226.7M511.4,231.3L513.0,226.2M513.6,230.9L515.3,225.8M515.9,230.4L517.5,225.3M518.2,230.0L519.8,224.9M520.4,229.6L522.1,224.4M522.7,229.1L524.3,224.0M524.9,228.7L526.6,223.6M527.2,228.2L528.8,223.1M529.4,227.8L531.1,222.7M531.7,227.3L533.3,222.2M534.0,226.9L535.6,221.8M536.2,226.5L537.9,221.3M538.5,226.0L540.1,220.9M540.7,225.6L542.4,220.5M543.0,225.1L544.6,220.0M545.2,224.7L546.9,219.6M487.6,243.0L489.5,238.0M489.9,242.7L491.8,237.7M492.1,242.4L494.0,237.4M494.4,242.1L496.3,237.0M496.7,241.7L498.6,236.7M499.0,241.4L500.9,236.4M501.2,241.1L503.2,236.1M503.5,240.8L505.4,235.8M505.8,240.5L507.7,235.4M508.1,240.1L510.0,235.1M510.3,239.8L512.3,234.8M512.6,239.5L514.5,234.5M514.9,239.2L516.8,234.2M517.2,238.9L519.1,233.8M519.5,238.5L521.4,233.5M521.7,238.2L523.7,233.2M524.0,237.9L525.9,232.9M526.3,237.6L528.2,232.6M528.6,237.3L530.5,232.2M530.8,236.9L532.8,231.9M533.1,236.6L535.0,231.6M535.4,236.3L537.3,231.3M537.7,236.0L539.6,231.0M540.0,235.6L541.9,230.6M542.2,235.3L544.2,230.3M544.5,235.0L546.4,230.0M546.8,234.7L548.7,229.7" stroke="#8c8c8c" stroke-width="0.95" fill="none"/>
<path d="M489.54,274.59 L551.02,283.31 L550.36,287.96 L488.88,279.25Z M488.49,281.53 L549.42,293.54 L548.51,298.15 L487.58,286.14Z M487.07,288.4 L547.27,303.67 L546.11,308.22 L485.92,292.96Z M485.29,295.19 L544.58,313.66 L543.18,318.15 L483.89,299.67Z M483.14,301.86 L541.35,323.5 L539.71,327.91 L481.5,306.27Z M480.64,308.42 L537.6,333.15 L535.73,337.46 L478.77,312.73Z M477.79,314.83 L533.34,342.59 L531.24,346.79 L475.69,319.03Z M474.6,321.08 L528.58,351.78 L526.25,355.86 L472.27,325.16Z M471.07,327.14 L523.33,360.7 L520.79,364.66 L468.53,331.1Z M467.23,333.01 L517.6,369.33 L514.86,373.14 L464.48,336.82Z M463.08,338.67 L511.43,377.64 L508.48,381.3 L460.13,342.33Z M458.63,344.09 L504.81,385.6 L501.67,389.1 L455.49,347.58Z M453.89,349.26 L497.78,393.2 L494.45,396.52 L450.57,352.59Z M448.88,354.18 L490.35,400.41 L486.85,403.55 L445.39,357.32Z M443.62,358.82 L482.54,407.21 L478.88,410.15 L439.96,361.76Z M438.12,363.16 L474.38,413.58 L470.56,416.32 L434.3,365.91Z M432.38,367.21 L465.89,419.5 L461.93,422.03 L428.43,369.75Z M426.44,370.94 L457.09,424.95 L453,427.27 L422.36,373.26Z M420.31,374.35 L448.01,429.93 L443.8,432.03 L416.11,376.45Z M414.01,377.42 L438.68,434.41 L434.36,436.28 L409.69,379.29Z M407.54,380.15 L429.12,438.39 L424.71,440.02 L403.14,381.79Z M400.94,382.53 L419.36,441.84 L414.87,443.23 L396.45,383.93Z M394.22,384.55 L409.43,444.76 L404.87,445.92 L389.67,385.7Z M387.41,386.21 L399.35,447.15 L394.74,448.06 L382.8,387.12Z M380.51,387.5 L389.17,448.99 L384.51,449.65 L375.86,388.15Z M344.01,388.14 L335.29,449.62 L330.64,448.96 L339.35,387.48Z M337.07,387.09 L325.06,448.02 L320.45,447.11 L332.46,386.18Z M330.2,385.67 L314.93,445.87 L310.38,444.71 L325.64,384.52Z M323.41,383.89 L304.94,443.18 L300.45,441.78 L318.93,382.49Z M316.74,381.74 L295.1,439.95 L290.69,438.31 L312.33,380.1Z M310.18,379.24 L285.45,436.2 L281.14,434.33 L305.87,377.37Z M303.77,376.39 L276.01,431.94 L271.81,429.84 L299.57,374.29Z M297.52,373.2 L266.82,427.18 L262.74,424.85 L293.44,370.87Z M291.46,369.67 L257.9,421.93 L253.94,419.39 L287.5,367.13Z M285.59,365.83 L249.27,416.2 L245.46,413.46 L281.78,363.08Z M279.93,361.68 L240.96,410.03 L237.3,407.08 L276.27,358.73Z M274.51,357.23 L233,403.41 L229.5,400.27 L271.02,354.09Z M269.34,352.49 L225.4,396.38 L222.08,393.05 L266.01,349.17Z M264.42,347.48 L218.19,388.95 L215.05,385.45 L261.28,343.99Z M259.78,342.22 L211.39,381.14 L208.45,377.48 L256.84,338.56Z M255.44,336.72 L205.02,372.98 L202.28,369.16 L252.69,332.9Z M251.39,330.98 L199.1,364.49 L196.57,360.53 L248.85,327.03Z M247.66,325.04 L193.65,355.69 L191.33,351.6 L245.34,320.96Z M244.25,318.91 L188.67,346.61 L186.57,342.4 L242.15,314.71Z M241.18,312.61 L184.19,337.28 L182.32,332.96 L239.31,308.29Z M238.45,306.14 L180.21,327.72 L178.58,323.31 L236.81,301.74Z M236.07,299.54 L176.76,317.96 L175.37,313.47 L234.67,295.05Z M234.05,292.82 L173.84,308.03 L172.68,303.47 L232.9,288.27Z M232.39,286.01 L171.45,297.95 L170.54,293.34 L231.48,281.4Z M231.1,279.11 L169.61,287.77 L168.95,283.11 L230.45,274.46Z M230.46,242.61 L168.98,233.89 L169.64,229.24 L231.12,237.95Z M231.51,235.67 L170.58,223.66 L171.49,219.05 L232.42,231.06Z M232.93,228.8 L172.73,213.53 L173.89,208.98 L234.08,224.24Z M234.71,222.01 L175.42,203.54 L176.82,199.05 L236.11,217.53Z M236.86,215.34 L178.65,193.7 L180.29,189.29 L238.5,210.93Z M239.36,208.78 L182.4,184.05 L184.27,179.74 L241.23,204.47Z M242.21,202.37 L186.66,174.61 L188.76,170.41 L244.31,198.17Z M245.4,196.12 L191.42,165.42 L193.75,161.34 L247.73,192.04Z M248.93,190.06 L196.67,156.5 L199.21,152.54 L251.47,186.1Z M252.77,184.19 L202.4,147.87 L205.14,144.06 L255.52,180.38Z M256.92,178.53 L208.57,139.56 L211.52,135.9 L259.87,174.87Z M261.37,173.11 L215.19,131.6 L218.33,128.1 L264.51,169.62Z M266.11,167.94 L222.22,124 L225.55,120.68 L269.43,164.61Z M271.12,163.02 L229.65,116.79 L233.15,113.65 L274.61,159.88Z M276.38,158.38 L237.46,109.99 L241.12,107.05 L280.04,155.44Z M281.88,154.04 L245.62,103.62 L249.44,100.88 L285.7,151.29Z M287.62,149.99 L254.11,97.7 L258.07,95.17 L291.57,147.45Z M293.56,146.26 L262.91,92.25 L267,89.93 L297.64,143.94Z M299.69,142.85 L271.99,87.27 L276.2,85.17 L303.89,140.75Z M305.99,139.78 L281.32,82.79 L285.64,80.92 L310.31,137.91Z M312.46,137.05 L290.88,78.81 L295.29,77.18 L316.86,135.41Z M319.06,134.67 L300.64,75.36 L305.13,73.97 L323.55,133.27Z M325.78,132.65 L310.57,72.44 L315.13,71.28 L330.33,131.5Z M332.59,130.99 L320.65,70.05 L325.26,69.14 L337.2,130.08Z M339.49,129.7 L330.83,68.21 L335.49,67.55 L344.14,129.05Z M375.99,129.06 L384.71,67.58 L389.36,68.24 L380.65,129.72Z M382.93,130.11 L394.94,69.18 L399.55,70.09 L387.54,131.02Z M389.8,131.53 L405.07,71.33 L409.62,72.49 L394.36,132.68Z M396.59,133.31 L415.06,74.02 L419.55,75.42 L401.07,134.71Z M403.26,135.46 L424.9,77.25 L429.31,78.89 L407.67,137.1Z M409.82,137.96 L434.55,81 L438.86,82.87 L414.13,139.83Z M416.23,140.81 L443.99,85.26 L448.19,87.36 L420.43,142.91Z M422.48,144 L453.18,90.02 L457.26,92.35 L426.56,146.33Z M428.54,147.53 L462.1,95.27 L466.06,97.81 L432.5,150.07Z M434.41,151.37 L470.73,101 L474.54,103.74 L438.22,154.12Z M440.07,155.52 L479.04,107.17 L482.7,110.12 L443.73,158.47Z M445.49,159.97 L487,113.79 L490.5,116.93 L448.98,163.11Z M450.66,164.71 L494.6,120.82 L497.92,124.15 L453.99,168.03Z M455.58,169.72 L501.81,128.25 L504.95,131.75 L458.72,173.21Z M460.22,174.98 L508.61,136.06 L511.55,139.72 L463.16,178.64Z M464.56,180.48 L514.98,144.22 L517.72,148.04 L467.31,184.3Z M468.61,186.22 L520.9,152.71 L523.43,156.67 L471.15,190.17Z M472.34,192.16 L526.35,161.51 L528.67,165.6 L474.66,196.24Z M475.75,198.29 L531.33,170.59 L533.43,174.8 L477.85,202.49Z M478.82,204.59 L535.81,179.92 L537.68,184.24 L480.69,208.91Z M481.55,211.06 L539.79,189.48 L541.42,193.89 L483.19,215.46Z M483.93,217.66 L543.24,199.24 L544.63,203.73 L485.33,222.15Z M485.95,224.38 L546.16,209.17 L547.32,213.73 L487.1,228.93Z M487.61,231.19 L548.55,219.25 L549.46,223.86 L488.52,235.8Z M488.9,238.09 L550.39,229.43 L551.05,234.09 L489.55,242.74Z" fill="none" stroke="#686868" stroke-width="0.8"/>
<path d="M548.45,282.95 L551.02,283.31 L550.36,287.96 L547.79,287.6Z M546.87,293.04 L549.42,293.54 L548.51,298.15 L545.96,297.65Z M544.75,303.03 L547.27,303.67 L546.11,308.22 L543.59,307.58Z M542.09,312.89 L544.58,313.66 L543.18,318.15 L540.7,317.38Z M538.91,322.59 L541.35,323.5 L539.71,327.91 L537.28,327Z M535.22,332.12 L537.6,333.15 L535.73,337.46 L533.35,336.43Z M531.01,341.42 L533.34,342.59 L531.24,346.79 L528.91,345.63Z M526.32,350.49 L528.58,351.78 L526.25,355.86 L523.99,354.58Z M521.14,359.3 L523.33,360.7 L520.79,364.66 L518.6,363.25Z M515.5,367.81 L517.6,369.33 L514.86,373.14 L512.75,371.62Z M509.4,376.01 L511.43,377.64 L508.48,381.3 L506.45,379.67Z M502.88,383.86 L504.81,385.6 L501.67,389.1 L499.74,387.36Z M495.94,391.36 L497.78,393.2 L494.45,396.52 L492.62,394.68Z M488.61,398.47 L490.35,400.41 L486.85,403.55 L485.11,401.61Z M480.91,405.18 L482.54,407.21 L478.88,410.15 L477.25,408.13Z M472.86,411.47 L474.38,413.58 L470.56,416.32 L469.05,414.21Z M464.48,417.31 L465.89,419.5 L461.93,422.03 L460.53,419.84Z M455.81,422.69 L457.09,424.95 L453,427.27 L451.72,425.01Z M446.85,427.6 L448.01,429.93 L443.8,432.03 L442.64,429.7Z M437.65,432.03 L438.68,434.41 L434.36,436.28 L433.33,433.89Z M428.21,435.95 L429.12,438.39 L424.71,440.02 L423.81,437.58Z M418.59,439.36 L419.36,441.84 L414.87,443.23 L414.1,440.75Z M408.79,442.24 L409.43,444.76 L404.87,445.92 L404.23,443.39Z M398.85,444.6 L399.35,447.15 L394.74,448.06 L394.24,445.5Z M388.8,446.42 L389.17,448.99 L384.51,449.65 L384.15,447.07Z M335.65,447.05 L335.29,449.62 L330.64,448.96 L331,446.39Z M325.56,445.47 L325.06,448.02 L320.45,447.11 L320.95,444.56Z M315.57,443.35 L314.93,445.87 L310.38,444.71 L311.02,442.19Z M305.71,440.69 L304.94,443.18 L300.45,441.78 L301.22,439.3Z M296.01,437.51 L295.1,439.95 L290.69,438.31 L291.6,435.88Z M286.48,433.82 L285.45,436.2 L281.14,434.33 L282.17,431.95Z M277.18,429.61 L276.01,431.94 L271.81,429.84 L272.97,427.51Z M268.11,424.92 L266.82,427.18 L262.74,424.85 L264.02,422.59Z M259.3,419.74 L257.9,421.93 L253.94,419.39 L255.35,417.2Z M250.79,414.1 L249.27,416.2 L245.46,413.46 L246.98,411.35Z M242.59,408 L240.96,410.03 L237.3,407.08 L238.93,405.05Z M234.74,401.48 L233,403.41 L229.5,400.27 L231.24,398.34Z M227.24,394.54 L225.4,396.38 L222.08,393.05 L223.92,391.22Z M220.13,387.21 L218.19,388.95 L215.05,385.45 L216.99,383.71Z M213.42,379.51 L211.39,381.14 L208.45,377.48 L210.47,375.85Z M207.13,371.46 L205.02,372.98 L202.28,369.16 L204.39,367.65Z M201.29,363.08 L199.1,364.49 L196.57,360.53 L198.76,359.13Z M195.91,354.41 L193.65,355.69 L191.33,351.6 L193.59,350.32Z M191,345.45 L188.67,346.61 L186.57,342.4 L188.9,341.24Z M186.57,336.25 L184.19,337.28 L182.32,332.96 L184.71,331.93Z M182.65,326.81 L180.21,327.72 L178.58,323.31 L181.02,322.41Z M179.24,317.19 L176.76,317.96 L175.37,313.47 L177.85,312.7Z M176.36,307.39 L173.84,308.03 L172.68,303.47 L175.21,302.83Z M174,297.45 L171.45,297.95 L170.54,293.34 L173.1,292.84Z M172.18,287.4 L169.61,287.77 L168.95,283.11 L171.53,282.75Z M171.55,234.25 L168.98,233.89 L169.64,229.24 L172.21,229.6Z M173.13,224.16 L170.58,223.66 L171.49,219.05 L174.04,219.55Z M175.25,214.17 L172.73,213.53 L173.89,208.98 L176.41,209.62Z M177.91,204.31 L175.42,203.54 L176.82,199.05 L179.3,199.82Z M181.09,194.61 L178.65,193.7 L180.29,189.29 L182.72,190.2Z M184.78,185.08 L182.4,184.05 L184.27,179.74 L186.65,180.77Z M188.99,175.78 L186.66,174.61 L188.76,170.41 L191.09,171.57Z M193.68,166.71 L191.42,165.42 L193.75,161.34 L196.01,162.62Z M198.86,157.9 L196.67,156.5 L199.21,152.54 L201.4,153.95Z M204.5,149.39 L202.4,147.87 L205.14,144.06 L207.25,145.58Z M210.6,141.19 L208.57,139.56 L211.52,135.9 L213.55,137.53Z M217.12,133.34 L215.19,131.6 L218.33,128.1 L220.26,129.84Z M224.06,125.84 L222.22,124 L225.55,120.68 L227.38,122.52Z M231.39,118.73 L229.65,116.79 L233.15,113.65 L234.89,115.59Z M239.09,112.02 L237.46,109.99 L241.12,107.05 L242.75,109.07Z M247.14,105.73 L245.62,103.62 L249.44,100.88 L250.95,102.99Z M255.52,99.89 L254.11,97.7 L258.07,95.17 L259.47,97.36Z M264.19,94.51 L262.91,92.25 L267,89.93 L268.28,92.19Z M273.15,89.6 L271.99,87.27 L276.2,85.17 L277.36,87.5Z M282.35,85.17 L281.32,82.79 L285.64,80.92 L286.67,83.31Z M291.79,81.25 L290.88,78.81 L295.29,77.18 L296.19,79.62Z M301.41,77.84 L300.64,75.36 L305.13,73.97 L305.9,76.45Z M311.21,74.96 L310.57,72.44 L315.13,71.28 L315.77,73.81Z M321.15,72.6 L320.65,70.05 L325.26,69.14 L325.76,71.7Z M331.2,70.78 L330.83,68.21 L335.49,67.55 L335.85,70.13Z M384.35,70.15 L384.71,67.58 L389.36,68.24 L389,70.81Z M394.44,71.73 L394.94,69.18 L399.55,70.09 L399.05,72.64Z M404.43,73.85 L405.07,71.33 L409.62,72.49 L408.98,75.01Z M414.29,76.51 L415.06,74.02 L419.55,75.42 L418.78,77.9Z M423.99,79.69 L424.9,77.25 L429.31,78.89 L428.4,81.32Z M433.52,83.38 L434.55,81 L438.86,82.87 L437.83,85.25Z M442.82,87.59 L443.99,85.26 L448.19,87.36 L447.03,89.69Z M451.89,92.28 L453.18,90.02 L457.26,92.35 L455.98,94.61Z M460.7,97.46 L462.1,95.27 L466.06,97.81 L464.65,100Z M469.21,103.1 L470.73,101 L474.54,103.74 L473.02,105.85Z M477.41,109.2 L479.04,107.17 L482.7,110.12 L481.07,112.15Z M485.26,115.72 L487,113.79 L490.5,116.93 L488.76,118.86Z M492.76,122.66 L494.6,120.82 L497.92,124.15 L496.08,125.98Z M499.87,129.99 L501.81,128.25 L504.95,131.75 L503.01,133.49Z M506.58,137.69 L508.61,136.06 L511.55,139.72 L509.53,141.35Z M512.87,145.74 L514.98,144.22 L517.72,148.04 L515.61,149.55Z M518.71,154.12 L520.9,152.71 L523.43,156.67 L521.24,158.07Z M524.09,162.79 L526.35,161.51 L528.67,165.6 L526.41,166.88Z M529,171.75 L531.33,170.59 L533.43,174.8 L531.1,175.96Z M533.43,180.95 L535.81,179.92 L537.68,184.24 L535.29,185.27Z M537.35,190.39 L539.79,189.48 L541.42,193.89 L538.98,194.79Z M540.76,200.01 L543.24,199.24 L544.63,203.73 L542.15,204.5Z M543.64,209.81 L546.16,209.17 L547.32,213.73 L544.79,214.37Z M546,219.75 L548.55,219.25 L549.46,223.86 L546.9,224.36Z M547.82,229.8 L550.39,229.43 L551.05,234.09 L548.47,234.45Z" fill="#555" stroke="none" opacity="0.75"/>
</g>
<circle cx="360.0" cy="258.6" r="197.3" fill="none" stroke="#3c3c3c" stroke-width="1.2"/>
<circle cx="360.0" cy="258.6" r="193.2" fill="none" stroke="#555" stroke-width="1"/>
<path d="M357.4,78.9 L357.4,65.4 L362.6,65.4 L362.6,78.9Z" fill="#cdcdcd" stroke="#4a4a4a" stroke-width="0.95"/>
<path d="M357.4,127.2 L357.4,105.3 L362.6,105.3 L362.6,127.2Z" fill="#cdcdcd" stroke="#4a4a4a" stroke-width="0.95"/>
<circle cx="360" cy="92.1" r="13.7" fill="#e2e2e2" stroke="#333" stroke-width="1.8"/>
<circle cx="360" cy="92.1" r="9.6" fill="#fff" stroke="#2a2a2a" stroke-width="1.8"/>
<path d="M352.5,92.1 H367.5 M360,84.6 V99.6" stroke="#888" stroke-width="0.7"/>
<path d="M364.6,94.01 L361.91,96.7 L358.09,96.7 L355.4,94.01 L355.4,90.19 L358.09,87.5 L361.91,87.5 L364.6,90.19Z" fill="#fff" stroke="#444" stroke-width="1.2"/>
<rect x="358.5" y="90.6" width="3" height="3" fill="#fff" stroke="#444" stroke-width="0.8"/>
<path d="M539.7,256 L553.2,256 L553.2,261.2 L539.7,261.2Z" fill="#cdcdcd" stroke="#4a4a4a" stroke-width="0.95"/>
<path d="M491.4,256 L513.3,256 L513.3,261.2 L491.4,261.2Z" fill="#cdcdcd" stroke="#4a4a4a" stroke-width="0.95"/>
<circle cx="526.5" cy="258.6" r="13.7" fill="#e2e2e2" stroke="#333" stroke-width="1.8"/>
<circle cx="526.5" cy="258.6" r="9.6" fill="#fff" stroke="#2a2a2a" stroke-width="1.8"/>
<path d="M519,258.6 H534 M526.5,251.1 V266.1" stroke="#888" stroke-width="0.7"/>
<path d="M531.1,260.51 L528.41,263.2 L524.59,263.2 L521.9,260.51 L521.9,256.69 L524.59,254 L528.41,254 L531.1,256.69Z" fill="#fff" stroke="#444" stroke-width="1.2"/>
<rect x="525" y="257.1" width="3" height="3" fill="#fff" stroke="#444" stroke-width="0.8"/>
<path d="M362.6,438.3 L362.6,451.8 L357.4,451.8 L357.4,438.3Z" fill="#cdcdcd" stroke="#4a4a4a" stroke-width="0.95"/>
<path d="M362.6,390 L362.6,411.9 L357.4,411.9 L357.4,390Z" fill="#cdcdcd" stroke="#4a4a4a" stroke-width="0.95"/>
<circle cx="360" cy="425.1" r="13.7" fill="#e2e2e2" stroke="#333" stroke-width="1.8"/>
<circle cx="360" cy="425.1" r="9.6" fill="#fff" stroke="#2a2a2a" stroke-width="1.8"/>
<path d="M352.5,425.1 H367.5 M360,417.6 V432.6" stroke="#888" stroke-width="0.7"/>
<path d="M364.6,427.01 L361.91,429.7 L358.09,429.7 L355.4,427.01 L355.4,423.19 L358.09,420.5 L361.91,420.5 L364.6,423.19Z" fill="#fff" stroke="#444" stroke-width="1.2"/>
<rect x="358.5" y="423.6" width="3" height="3" fill="#fff" stroke="#444" stroke-width="0.8"/>
<path d="M180.3,261.2 L166.8,261.2 L166.8,256 L180.3,256Z" fill="#cdcdcd" stroke="#4a4a4a" stroke-width="0.95"/>
<path d="M228.6,261.2 L206.7,261.2 L206.7,256 L228.6,256Z" fill="#cdcdcd" stroke="#4a4a4a" stroke-width="0.95"/>
<circle cx="193.5" cy="258.6" r="13.7" fill="#e2e2e2" stroke="#333" stroke-width="1.8"/>
<circle cx="193.5" cy="258.6" r="9.6" fill="#fff" stroke="#2a2a2a" stroke-width="1.8"/>
<path d="M186,258.6 H201 M193.5,251.1 V266.1" stroke="#888" stroke-width="0.7"/>
<path d="M198.1,260.51 L195.41,263.2 L191.59,263.2 L188.9,260.51 L188.9,256.69 L191.59,254 L195.41,254 L198.1,256.69Z" fill="#fff" stroke="#444" stroke-width="1.2"/>
<rect x="192" y="257.1" width="3" height="3" fill="#fff" stroke="#444" stroke-width="0.8"/>
<circle cx="360.0" cy="258.6" r="128.8" fill="#fff" stroke="#5a5a5a" stroke-width="6.6"/>
<circle cx="360.0" cy="258.6" r="131.0" fill="none" stroke="#1a1a1a" stroke-width="1.8"/>
<circle cx="360.0" cy="258.6" r="126.3" fill="none" stroke="#1a1a1a" stroke-width="1.8"/>
<circle cx="360.0" cy="258.6" r="120.9" fill="none" stroke="#3a3a3a" stroke-width="2.4"/>
<path d="M383.3,172.75 L369.65,186.4 L350.35,186.4 L336.7,172.75 L336.7,153.45 L350.35,139.8 L369.65,139.8 L383.3,153.45Z" fill="#f0f0f0" stroke="#555" stroke-width="1.15"/>
<path d="M379.9,171.34 L368.24,183 L351.76,183 L340.1,171.34 L340.1,154.86 L351.76,143.2 L368.24,143.2 L379.9,154.86Z" fill="#e6e6e6" stroke="#7a7a7a" stroke-width="0.85"/>
<path d="M377.3,170.27 L367.17,180.4 L352.83,180.4 L342.7,170.27 L342.7,155.93 L352.83,145.8 L367.17,145.8 L377.3,155.93Z" fill="none" stroke="#b0b0b0" stroke-width="0.7"/>
<path d="M375.3,169.44 L366.34,178.4 L353.66,178.4 L344.7,169.44 L344.7,156.76 L353.66,147.8 L366.34,147.8 L375.3,156.76Z" fill="#fff" stroke="#4a4a4a" stroke-width="1.0"/>
<path d="M383.3,172.75 L375.3,169.44 M369.65,186.4 L366.34,178.4 M350.35,186.4 L353.66,178.4 M336.7,172.75 L344.7,169.44 M336.7,153.45 L344.7,156.76 M350.35,139.8 L353.66,147.8 M369.65,139.8 L366.34,147.8 M383.3,153.45 L375.3,156.76" stroke="#555" stroke-width="0.9" fill="none"/>
<rect x="354.1" y="160.2" width="11.8" height="5.8" fill="#d8d8d8" stroke="#2a2a2a" stroke-width="1.4"/>
<path d="M450.83,200.72 L437.18,214.37 L417.88,214.37 L404.23,200.72 L404.23,181.42 L417.88,167.77 L437.18,167.77 L450.83,181.42Z" fill="#f0f0f0" stroke="#555" stroke-width="1.15"/>
<path d="M447.43,199.31 L435.77,210.97 L419.29,210.97 L407.63,199.31 L407.63,182.83 L419.29,171.17 L435.77,171.17 L447.43,182.83Z" fill="#e6e6e6" stroke="#7a7a7a" stroke-width="0.85"/>
<path d="M444.83,198.24 L434.69,208.37 L420.36,208.37 L410.23,198.24 L410.23,183.91 L420.36,173.77 L434.69,173.77 L444.83,183.91Z" fill="none" stroke="#b0b0b0" stroke-width="0.7"/>
<path d="M442.83,197.41 L433.87,206.37 L421.19,206.37 L412.23,197.41 L412.23,184.73 L421.19,175.77 L433.87,175.77 L442.83,184.73Z" fill="#fff" stroke="#4a4a4a" stroke-width="1.0"/>
<path d="M450.83,200.72 L442.83,197.41 M437.18,214.37 L433.87,206.37 M417.88,214.37 L421.19,206.37 M404.23,200.72 L412.23,197.41 M404.23,181.42 L412.23,184.73 M417.88,167.77 L421.19,175.77 M437.18,167.77 L433.87,175.77 M450.83,181.42 L442.83,184.73" stroke="#555" stroke-width="0.9" fill="none"/>
<rect x="421.63" y="188.17" width="11.8" height="5.8" fill="#d8d8d8" stroke="#2a2a2a" stroke-width="1.4"/>
<path d="M478.8,268.25 L465.15,281.9 L445.85,281.9 L432.2,268.25 L432.2,248.95 L445.85,235.3 L465.15,235.3 L478.8,248.95Z" fill="#f0f0f0" stroke="#555" stroke-width="1.15"/>
<path d="M475.4,266.84 L463.74,278.5 L447.26,278.5 L435.6,266.84 L435.6,250.36 L447.26,238.7 L463.74,238.7 L475.4,250.36Z" fill="#e6e6e6" stroke="#7a7a7a" stroke-width="0.85"/>
<path d="M472.8,265.77 L462.67,275.9 L448.33,275.9 L438.2,265.77 L438.2,251.43 L448.33,241.3 L462.67,241.3 L472.8,251.43Z" fill="none" stroke="#b0b0b0" stroke-width="0.7"/>
<path d="M470.8,264.94 L461.84,273.9 L449.16,273.9 L440.2,264.94 L440.2,252.26 L449.16,243.3 L461.84,243.3 L470.8,252.26Z" fill="#fff" stroke="#4a4a4a" stroke-width="1.0"/>
<path d="M478.8,268.25 L470.8,264.94 M465.15,281.9 L461.84,273.9 M445.85,281.9 L449.16,273.9 M432.2,268.25 L440.2,264.94 M432.2,248.95 L440.2,252.26 M445.85,235.3 L449.16,243.3 M465.15,235.3 L461.84,243.3 M478.8,248.95 L470.8,252.26" stroke="#555" stroke-width="0.9" fill="none"/>
<rect x="449.6" y="255.7" width="11.8" height="5.8" fill="#d8d8d8" stroke="#2a2a2a" stroke-width="1.4"/>
<path d="M450.83,335.78 L437.18,349.43 L417.88,349.43 L404.23,335.78 L404.23,316.48 L417.88,302.83 L437.18,302.83 L450.83,316.48Z" fill="#f0f0f0" stroke="#555" stroke-width="1.15"/>
<path d="M447.43,334.37 L435.77,346.03 L419.29,346.03 L407.63,334.37 L407.63,317.89 L419.29,306.23 L435.77,306.23 L447.43,317.89Z" fill="#e6e6e6" stroke="#7a7a7a" stroke-width="0.85"/>
<path d="M444.83,333.29 L434.69,343.43 L420.36,343.43 L410.23,333.29 L410.23,318.96 L420.36,308.83 L434.69,308.83 L444.83,318.96Z" fill="none" stroke="#b0b0b0" stroke-width="0.7"/>
<path d="M442.83,332.47 L433.87,341.43 L421.19,341.43 L412.23,332.47 L412.23,319.79 L421.19,310.83 L433.87,310.83 L442.83,319.79Z" fill="#fff" stroke="#4a4a4a" stroke-width="1.0"/>
<path d="M450.83,335.78 L442.83,332.47 M437.18,349.43 L433.87,341.43 M417.88,349.43 L421.19,341.43 M404.23,335.78 L412.23,332.47 M404.23,316.48 L412.23,319.79 M417.88,302.83 L421.19,310.83 M437.18,302.83 L433.87,310.83 M450.83,316.48 L442.83,319.79" stroke="#555" stroke-width="0.9" fill="none"/>
<rect x="421.63" y="323.23" width="11.8" height="5.8" fill="#d8d8d8" stroke="#2a2a2a" stroke-width="1.4"/>
<path d="M383.3,363.75 L369.65,377.4 L350.35,377.4 L336.7,363.75 L336.7,344.45 L350.35,330.8 L369.65,330.8 L383.3,344.45Z" fill="#f0f0f0" stroke="#555" stroke-width="1.15"/>
<path d="M379.9,362.34 L368.24,374 L351.76,374 L340.1,362.34 L340.1,345.86 L351.76,334.2 L368.24,334.2 L379.9,345.86Z" fill="#e6e6e6" stroke="#7a7a7a" stroke-width="0.85"/>
<path d="M377.3,361.27 L367.17,371.4 L352.83,371.4 L342.7,361.27 L342.7,346.93 L352.83,336.8 L367.17,336.8 L377.3,346.93Z" fill="none" stroke="#b0b0b0" stroke-width="0.7"/>
<path d="M375.3,360.44 L366.34,369.4 L353.66,369.4 L344.7,360.44 L344.7,347.76 L353.66,338.8 L366.34,338.8 L375.3,347.76Z" fill="#fff" stroke="#4a4a4a" stroke-width="1.0"/>
<path d="M383.3,363.75 L375.3,360.44 M369.65,377.4 L366.34,369.4 M350.35,377.4 L353.66,369.4 M336.7,363.75 L344.7,360.44 M336.7,344.45 L344.7,347.76 M350.35,330.8 L353.66,338.8 M369.65,330.8 L366.34,338.8 M383.3,344.45 L375.3,347.76" stroke="#555" stroke-width="0.9" fill="none"/>
<rect x="354.1" y="351.2" width="11.8" height="5.8" fill="#d8d8d8" stroke="#2a2a2a" stroke-width="1.4"/>
<path d="M315.77,335.78 L302.12,349.43 L282.82,349.43 L269.17,335.78 L269.17,316.48 L282.82,302.83 L302.12,302.83 L315.77,316.48Z" fill="#f0f0f0" stroke="#555" stroke-width="1.15"/>
<path d="M312.37,334.37 L300.71,346.03 L284.23,346.03 L272.57,334.37 L272.57,317.89 L284.23,306.23 L300.71,306.23 L312.37,317.89Z" fill="#e6e6e6" stroke="#7a7a7a" stroke-width="0.85"/>
<path d="M309.77,333.29 L299.64,343.43 L285.31,343.43 L275.17,333.29 L275.17,318.96 L285.31,308.83 L299.64,308.83 L309.77,318.96Z" fill="none" stroke="#b0b0b0" stroke-width="0.7"/>
<path d="M307.77,332.47 L298.81,341.43 L286.13,341.43 L277.17,332.47 L277.17,319.79 L286.13,310.83 L298.81,310.83 L307.77,319.79Z" fill="#fff" stroke="#4a4a4a" stroke-width="1.0"/>
<path d="M315.77,335.78 L307.77,332.47 M302.12,349.43 L298.81,341.43 M282.82,349.43 L286.13,341.43 M269.17,335.78 L277.17,332.47 M269.17,316.48 L277.17,319.79 M282.82,302.83 L286.13,310.83 M302.12,302.83 L298.81,310.83 M315.77,316.48 L307.77,319.79" stroke="#555" stroke-width="0.9" fill="none"/>
<rect x="286.57" y="323.23" width="11.8" height="5.8" fill="#d8d8d8" stroke="#2a2a2a" stroke-width="1.4"/>
<path d="M287.8,268.25 L274.15,281.9 L254.85,281.9 L241.2,268.25 L241.2,248.95 L254.85,235.3 L274.15,235.3 L287.8,248.95Z" fill="#f0f0f0" stroke="#555" stroke-width="1.15"/>
<path d="M284.4,266.84 L272.74,278.5 L256.26,278.5 L244.6,266.84 L244.6,250.36 L256.26,238.7 L272.74,238.7 L284.4,250.36Z" fill="#e6e6e6" stroke="#7a7a7a" stroke-width="0.85"/>
<path d="M281.8,265.77 L271.67,275.9 L257.33,275.9 L247.2,265.77 L247.2,251.43 L257.33,241.3 L271.67,241.3 L281.8,251.43Z" fill="none" stroke="#b0b0b0" stroke-width="0.7"/>
<path d="M279.8,264.94 L270.84,273.9 L258.16,273.9 L249.2,264.94 L249.2,252.26 L258.16,243.3 L270.84,243.3 L279.8,252.26Z" fill="#fff" stroke="#4a4a4a" stroke-width="1.0"/>
<path d="M287.8,268.25 L279.8,264.94 M274.15,281.9 L270.84,273.9 M254.85,281.9 L258.16,273.9 M241.2,268.25 L249.2,264.94 M241.2,248.95 L249.2,252.26 M254.85,235.3 L258.16,243.3 M274.15,235.3 L270.84,243.3 M287.8,248.95 L279.8,252.26" stroke="#555" stroke-width="0.9" fill="none"/>
<rect x="258.6" y="255.7" width="11.8" height="5.8" fill="#d8d8d8" stroke="#2a2a2a" stroke-width="1.4"/>
<path d="M315.77,200.72 L302.12,214.37 L282.82,214.37 L269.17,200.72 L269.17,181.42 L282.82,167.77 L302.12,167.77 L315.77,181.42Z" fill="#f0f0f0" stroke="#555" stroke-width="1.15"/>
<path d="M312.37,199.31 L300.71,210.97 L284.23,210.97 L272.57,199.31 L272.57,182.83 L284.23,171.17 L300.71,171.17 L312.37,182.83Z" fill="#e6e6e6" stroke="#7a7a7a" stroke-width="0.85"/>
<path d="M309.77,198.24 L299.64,208.37 L285.31,208.37 L275.17,198.24 L275.17,183.91 L285.31,173.77 L299.64,173.77 L309.77,183.91Z" fill="none" stroke="#b0b0b0" stroke-width="0.7"/>
<path d="M307.77,197.41 L298.81,206.37 L286.13,206.37 L277.17,197.41 L277.17,184.73 L286.13,175.77 L298.81,175.77 L307.77,184.73Z" fill="#fff" stroke="#4a4a4a" stroke-width="1.0"/>
<path d="M315.77,200.72 L307.77,197.41 M302.12,214.37 L298.81,206.37 M282.82,214.37 L286.13,206.37 M269.17,200.72 L277.17,197.41 M269.17,181.42 L277.17,184.73 M282.82,167.77 L286.13,175.77 M302.12,167.77 L298.81,175.77 M315.77,181.42 L307.77,184.73" stroke="#555" stroke-width="0.9" fill="none"/>
<rect x="286.57" y="188.17" width="11.8" height="5.8" fill="#d8d8d8" stroke="#2a2a2a" stroke-width="1.4"/>
<path d="M383.3,228.25 L369.65,241.9 L350.35,241.9 L336.7,228.25 L336.7,208.95 L350.35,195.3 L369.65,195.3 L383.3,208.95Z" fill="#f0f0f0" stroke="#555" stroke-width="1.15"/>
<path d="M379.9,226.84 L368.24,238.5 L351.76,238.5 L340.1,226.84 L340.1,210.36 L351.76,198.7 L368.24,198.7 L379.9,210.36Z" fill="#e6e6e6" stroke="#7a7a7a" stroke-width="0.85"/>
<path d="M377.3,225.77 L367.17,235.9 L352.83,235.9 L342.7,225.77 L342.7,211.43 L352.83,201.3 L367.17,201.3 L377.3,211.43Z" fill="none" stroke="#b0b0b0" stroke-width="0.7"/>
<path d="M375.3,224.94 L366.34,233.9 L353.66,233.9 L344.7,224.94 L344.7,212.26 L353.66,203.3 L366.34,203.3 L375.3,212.26Z" fill="#fff" stroke="#4a4a4a" stroke-width="1.0"/>
<path d="M383.3,228.25 L375.3,224.94 M369.65,241.9 L366.34,233.9 M350.35,241.9 L353.66,233.9 M336.7,228.25 L344.7,224.94 M336.7,208.95 L344.7,212.26 M350.35,195.3 L353.66,203.3 M369.65,195.3 L366.34,203.3 M383.3,208.95 L375.3,212.26" stroke="#555" stroke-width="0.9" fill="none"/>
<rect x="357.1" y="212.7" width="5.8" height="11.8" fill="#d8d8d8" stroke="#2a2a2a" stroke-width="1.4"/>
<path d="M383.3,308.25 L369.65,321.9 L350.35,321.9 L336.7,308.25 L336.7,288.95 L350.35,275.3 L369.65,275.3 L383.3,288.95Z" fill="#f0f0f0" stroke="#555" stroke-width="1.15"/>
<path d="M379.9,306.84 L368.24,318.5 L351.76,318.5 L340.1,306.84 L340.1,290.36 L351.76,278.7 L368.24,278.7 L379.9,290.36Z" fill="#e6e6e6" stroke="#7a7a7a" stroke-width="0.85"/>
<path d="M377.3,305.77 L367.17,315.9 L352.83,315.9 L342.7,305.77 L342.7,291.43 L352.83,281.3 L367.17,281.3 L377.3,291.43Z" fill="none" stroke="#b0b0b0" stroke-width="0.7"/>
<path d="M375.3,304.94 L366.34,313.9 L353.66,313.9 L344.7,304.94 L344.7,292.26 L353.66,283.3 L366.34,283.3 L375.3,292.26Z" fill="#fff" stroke="#4a4a4a" stroke-width="1.0"/>
<path d="M383.3,308.25 L375.3,304.94 M369.65,321.9 L366.34,313.9 M350.35,321.9 L353.66,313.9 M336.7,308.25 L344.7,304.94 M336.7,288.95 L344.7,292.26 M350.35,275.3 L353.66,283.3 M369.65,275.3 L366.34,283.3 M383.3,288.95 L375.3,292.26" stroke="#555" stroke-width="0.9" fill="none"/>
<rect x="357.1" y="292.7" width="5.8" height="11.8" fill="#d8d8d8" stroke="#2a2a2a" stroke-width="1.4"/>
<path d="M343.8,268.25 L330.15,281.9 L310.85,281.9 L297.2,268.25 L297.2,248.95 L310.85,235.3 L330.15,235.3 L343.8,248.95Z" fill="#f0f0f0" stroke="#555" stroke-width="1.15"/>
<path d="M340.4,266.84 L328.74,278.5 L312.26,278.5 L300.6,266.84 L300.6,250.36 L312.26,238.7 L328.74,238.7 L340.4,250.36Z" fill="#e6e6e6" stroke="#7a7a7a" stroke-width="0.85"/>
<path d="M337.8,265.77 L327.67,275.9 L313.33,275.9 L303.2,265.77 L303.2,251.43 L313.33,241.3 L327.67,241.3 L337.8,251.43Z" fill="none" stroke="#b0b0b0" stroke-width="0.7"/>
<path d="M335.8,264.94 L326.84,273.9 L314.16,273.9 L305.2,264.94 L305.2,252.26 L314.16,243.3 L326.84,243.3 L335.8,252.26Z" fill="#fff" stroke="#4a4a4a" stroke-width="1.0"/>
<path d="M343.8,268.25 L335.8,264.94 M330.15,281.9 L326.84,273.9 M310.85,281.9 L314.16,273.9 M297.2,268.25 L305.2,264.94 M297.2,248.95 L305.2,252.26 M310.85,235.3 L314.16,243.3 M330.15,235.3 L326.84,243.3 M343.8,248.95 L335.8,252.26" stroke="#555" stroke-width="0.9" fill="none"/>
<rect x="314.6" y="255.7" width="11.8" height="5.8" fill="#d8d8d8" stroke="#2a2a2a" stroke-width="1.4"/>
<path d="M422.8,268.25 L409.15,281.9 L389.85,281.9 L376.2,268.25 L376.2,248.95 L389.85,235.3 L409.15,235.3 L422.8,248.95Z" fill="#f0f0f0" stroke="#555" stroke-width="1.15"/>
<path d="M419.4,266.84 L407.74,278.5 L391.26,278.5 L379.6,266.84 L379.6,250.36 L391.26,238.7 L407.74,238.7 L419.4,250.36Z" fill="#e6e6e6" stroke="#7a7a7a" stroke-width="0.85"/>
<path d="M416.8,265.77 L406.67,275.9 L392.33,275.9 L382.2,265.77 L382.2,251.43 L392.33,241.3 L406.67,241.3 L416.8,251.43Z" fill="none" stroke="#b0b0b0" stroke-width="0.7"/>
<path d="M414.8,264.94 L405.84,273.9 L393.16,273.9 L384.2,264.94 L384.2,252.26 L393.16,243.3 L405.84,243.3 L414.8,252.26Z" fill="#fff" stroke="#4a4a4a" stroke-width="1.0"/>
<path d="M422.8,268.25 L414.8,264.94 M409.15,281.9 L405.84,273.9 M389.85,281.9 L393.16,273.9 M376.2,268.25 L384.2,264.94 M376.2,248.95 L384.2,252.26 M389.85,235.3 L393.16,243.3 M409.15,235.3 L405.84,243.3 M422.8,248.95 L414.8,252.26" stroke="#555" stroke-width="0.9" fill="none"/>
<rect x="393.6" y="255.7" width="11.8" height="5.8" fill="#d8d8d8" stroke="#2a2a2a" stroke-width="1.4"/>
<path d="M157,258.6 H562" stroke="#777" stroke-width="0.7" fill="none" stroke-dasharray="14 3 2 3"/>
<path d="M360.0,56 V462" stroke="#777" stroke-width="0.7" fill="none" stroke-dasharray="14 3 2 3"/>
<path d="M98,60.5 H360 M99,456 H360 M101.6,60.5 V456 M132,92.2 H346 M132,425.3 H346 M134.7,92.2 V425.3" stroke="#555" stroke-width="1" fill="none"/>
<path d="M101.6,60.8 L103.9,69.8 L99.3,69.8Z" fill="#111"/>
<path d="M101.6,455.7 L99.3,446.7 L103.9,446.7Z" fill="#111"/>
<path d="M134.7,92.5 L137,101.5 L132.4,101.5Z" fill="#111"/>
<path d="M134.7,425 L132.4,416 L137,416Z" fill="#111"/>
<g transform="translate(99.5,254.5) rotate(-90)"><text class="lb" x="4" y="0" font-size="11.8" fill="#222" text-anchor="middle">190</text><circle cx="-10.5" cy="-4.3" r="3.6" fill="none" stroke="#444" stroke-width="0.9"/><path d="M-14.5,-0.3 L-6.5,-8.3" stroke="#444" stroke-width="0.9"/></g>
<g transform="translate(131.6,255) rotate(-90)"><text class="lb" x="0" y="0" font-size="11.8" fill="#222" text-anchor="middle">160</text></g>
<rect x="501" y="70.5" width="168" height="31.5" fill="#fff" stroke="#555" stroke-width="1"/>
<text class="lb" x="585" y="79.6" font-size="10.4" fill="#222" text-anchor="middle" textLength="163" lengthAdjust="spacingAndGlyphs">ŚWIATŁO OŚWIETLENIA WNĘTRZA</text>
<text class="lb" x="585" y="88.2" font-size="7.6" fill="#222" text-anchor="middle" textLength="66" lengthAdjust="spacingAndGlyphs">INTERIOR LAMP</text>
<text class="lb" x="585" y="96.9" font-size="9.6" fill="#222" text-anchor="middle" textLength="97" lengthAdjust="spacingAndGlyphs">[12×LED 12 V (6,5 W)]</text>
<path d="M502,102 H483 L369,251.5" stroke="#2e2e2e" stroke-width="1.05" fill="none"/>
<circle cx="369" cy="251.5" r="1.6" fill="#111"/>
<text class="lb" x="611" y="130.3" font-size="12.6" fill="#222" text-anchor="middle" textLength="40" lengthAdjust="spacingAndGlyphs">500±10</text>
<path d="M587,133.8 H686.5 M638.6,130 V187" stroke="#555" stroke-width="1" fill="none"/>
<path d="M638.8,133.8 L647.8,131.5 L647.8,136.1Z" fill="#111"/>
<path d="M686.3,133.8 L677.3,136.1 L677.3,131.5Z" fill="#111"/>
<path d="M617,189.7 H638" stroke="#555" stroke-width="1"/>
<path d="M638,189.7 H650" stroke="#333" stroke-width="2.4"/>
<rect x="649.5" y="187.6" width="9" height="4.4" fill="#ddd" stroke="#444" stroke-width="0.9"/>
<rect x="667" y="187.4" width="19.5" height="4.6" fill="#cfcfcf" stroke="#444" stroke-width="0.9"/>
<path d="M658.5,180 V200 M666.5,180 V200" stroke="#888" stroke-width="0.8" stroke-dasharray="3 2"/>
<path d="M686.5,189.7 H702" stroke="#777" stroke-width="0.8" stroke-dasharray="8 3"/>
<path d="M618.6,189.7 V259 M616,259 H677" stroke="#555" stroke-width="1" fill="none"/>
<path d="M680,259 H730" stroke="#777" stroke-width="0.8" stroke-dasharray="10 3 2 3"/>
<path d="M618.6,190 L620.9,199 L616.3,199Z" fill="#111"/>
<path d="M618.6,258.7 L616.3,249.7 L620.9,249.7Z" fill="#111"/>
<g transform="translate(616.3,225) rotate(-90)"><text class="lb" x="0" y="0" font-size="11.8" fill="#222" text-anchor="middle">33</text></g>
<path d="M529.5,258.7 L621,283.8" stroke="#444" stroke-width="0.9"/>
<path d="M529.5,258.7 L541.71,259.56 L540.44,264.19Z" fill="#111"/>
<g transform="translate(586.6,272.2) rotate(15.3)"><text class="lb" x="0" y="0" font-size="12">4</text><text class="lb" x="6.6" y="-0.5" font-size="10.5">×</text><circle cx="18.6" cy="-4.1" r="3.5" fill="none" stroke="#444" stroke-width="0.9"/><path d="M14.8,-0.3 L22.4,-7.9" stroke="#444" stroke-width="0.9"/><text class="lb" x="24" y="0" font-size="12">4</text></g>
<path d="M686.6,61.2 V487 M724.1,245 V487" stroke="#444" stroke-width="1" fill="none"/>
<path d="M686.6,61.2 C706.6,76.2 719.2,102 719.2,117 V400.7 C719.2,415.7 706.6,441.5 686.6,456.5" stroke="#444" stroke-width="1.1" fill="none"/>
<path d="M719.2,135 Q724.1,185 724.1,245" stroke="#444" stroke-width="1" fill="none"/>
<ellipse cx="710.2" cy="258.8" rx="6.2" ry="12.1" fill="none" stroke="#333" stroke-width="1.4"/>
<path d="M714.5,250 A4,8.5 0 0 0 714.5,267.5" stroke="#555" stroke-width="0.9" fill="none"/>
<path d="M647,484.4 H724.3" stroke="#555" stroke-width="1" fill="none"/>
<path d="M686.8,484.4 L695.8,482.1 L695.8,486.7Z" fill="#111"/>
<path d="M723.9,484.4 L714.9,486.7 L714.9,482.1Z" fill="#111"/>
<text class="lb" x="657" y="482" font-size="11.8" fill="#222" text-anchor="middle">19</text>
<path d="M162.5,535.2 H559.5" stroke="#444" stroke-width="1.1" fill="none"/>
<path d="M162.5,535.2 C176.6,554.6 200.9,566.8 215,566.8 L507,566.8 C521.1,566.8 545.4,554.6 559.5,535.2" stroke="#444" stroke-width="1.1" fill="none"/>
<path d="M215,566.8 Q290,571.2 361,571.2 Q432,571.2 507,566.8" stroke="#444" stroke-width="1" fill="none"/>
<ellipse cx="360" cy="557.7" rx="12" ry="5.6" fill="none" stroke="#333" stroke-width="1.4"/>
<path d="M350,560 Q360,556 370,560" stroke="#666" stroke-width="0.8" fill="none"/>
<path d="M360,524 V577" stroke="#777" stroke-width="0.8" stroke-dasharray="8 3 2 3"/>
<path d="M345.7,535 V553 M373.8,535 V553" stroke="#888" stroke-width="0.8" stroke-dasharray="6 2"/>
<path d="M346.8,477 V488" stroke="#555" stroke-width="2.6"/>
<rect x="344.4" y="488" width="4.8" height="9" fill="#fff" stroke="#555" stroke-width="0.9"/>
<rect x="344" y="505" width="5.6" height="30" fill="#d6d6d6" stroke="#555" stroke-width="1"/>
<path d="M374,477 V488" stroke="#555" stroke-width="2.6"/>
<rect x="371.6" y="488" width="4.8" height="9" fill="#fff" stroke="#555" stroke-width="0.9"/>
<rect x="371.2" y="505" width="5.6" height="30" fill="#d6d6d6" stroke="#555" stroke-width="1"/>
<path d="M335,497 Q347,494 360,499 Q372,504 386,500 M335,505 Q347,502 360,507 Q372,512 386,508" stroke="#888" stroke-width="0.9" fill="none" stroke-dasharray="4 2"/>
<rect x="467.5" y="459" width="127" height="27" fill="#fff" stroke="#555" stroke-width="1"/>
<text class="lb" x="529.5" y="469.4" font-size="12.2" fill="#222" text-anchor="middle" textLength="121" lengthAdjust="spacingAndGlyphs">2×PRZEWÓD 0,75 mm²</text>
<text class="lb" x="534.5" y="480.6" font-size="12.2" fill="#222" text-anchor="middle" textLength="109" lengthAdjust="spacingAndGlyphs">2×CABLE 0,75 mm²</text>
<path d="M467.8,484 H451 L348.8,521.9 M451,484 L376,528.4" stroke="#444" stroke-width="0.9" fill="none"/>
<path d="M348.8,521.9 L356.47,516.71 L358,520.83Z" fill="#111"/>
<path d="M376,528.4 L382.62,521.92 L384.87,525.71Z" fill="#111"/>
</svg>
</body></html>
